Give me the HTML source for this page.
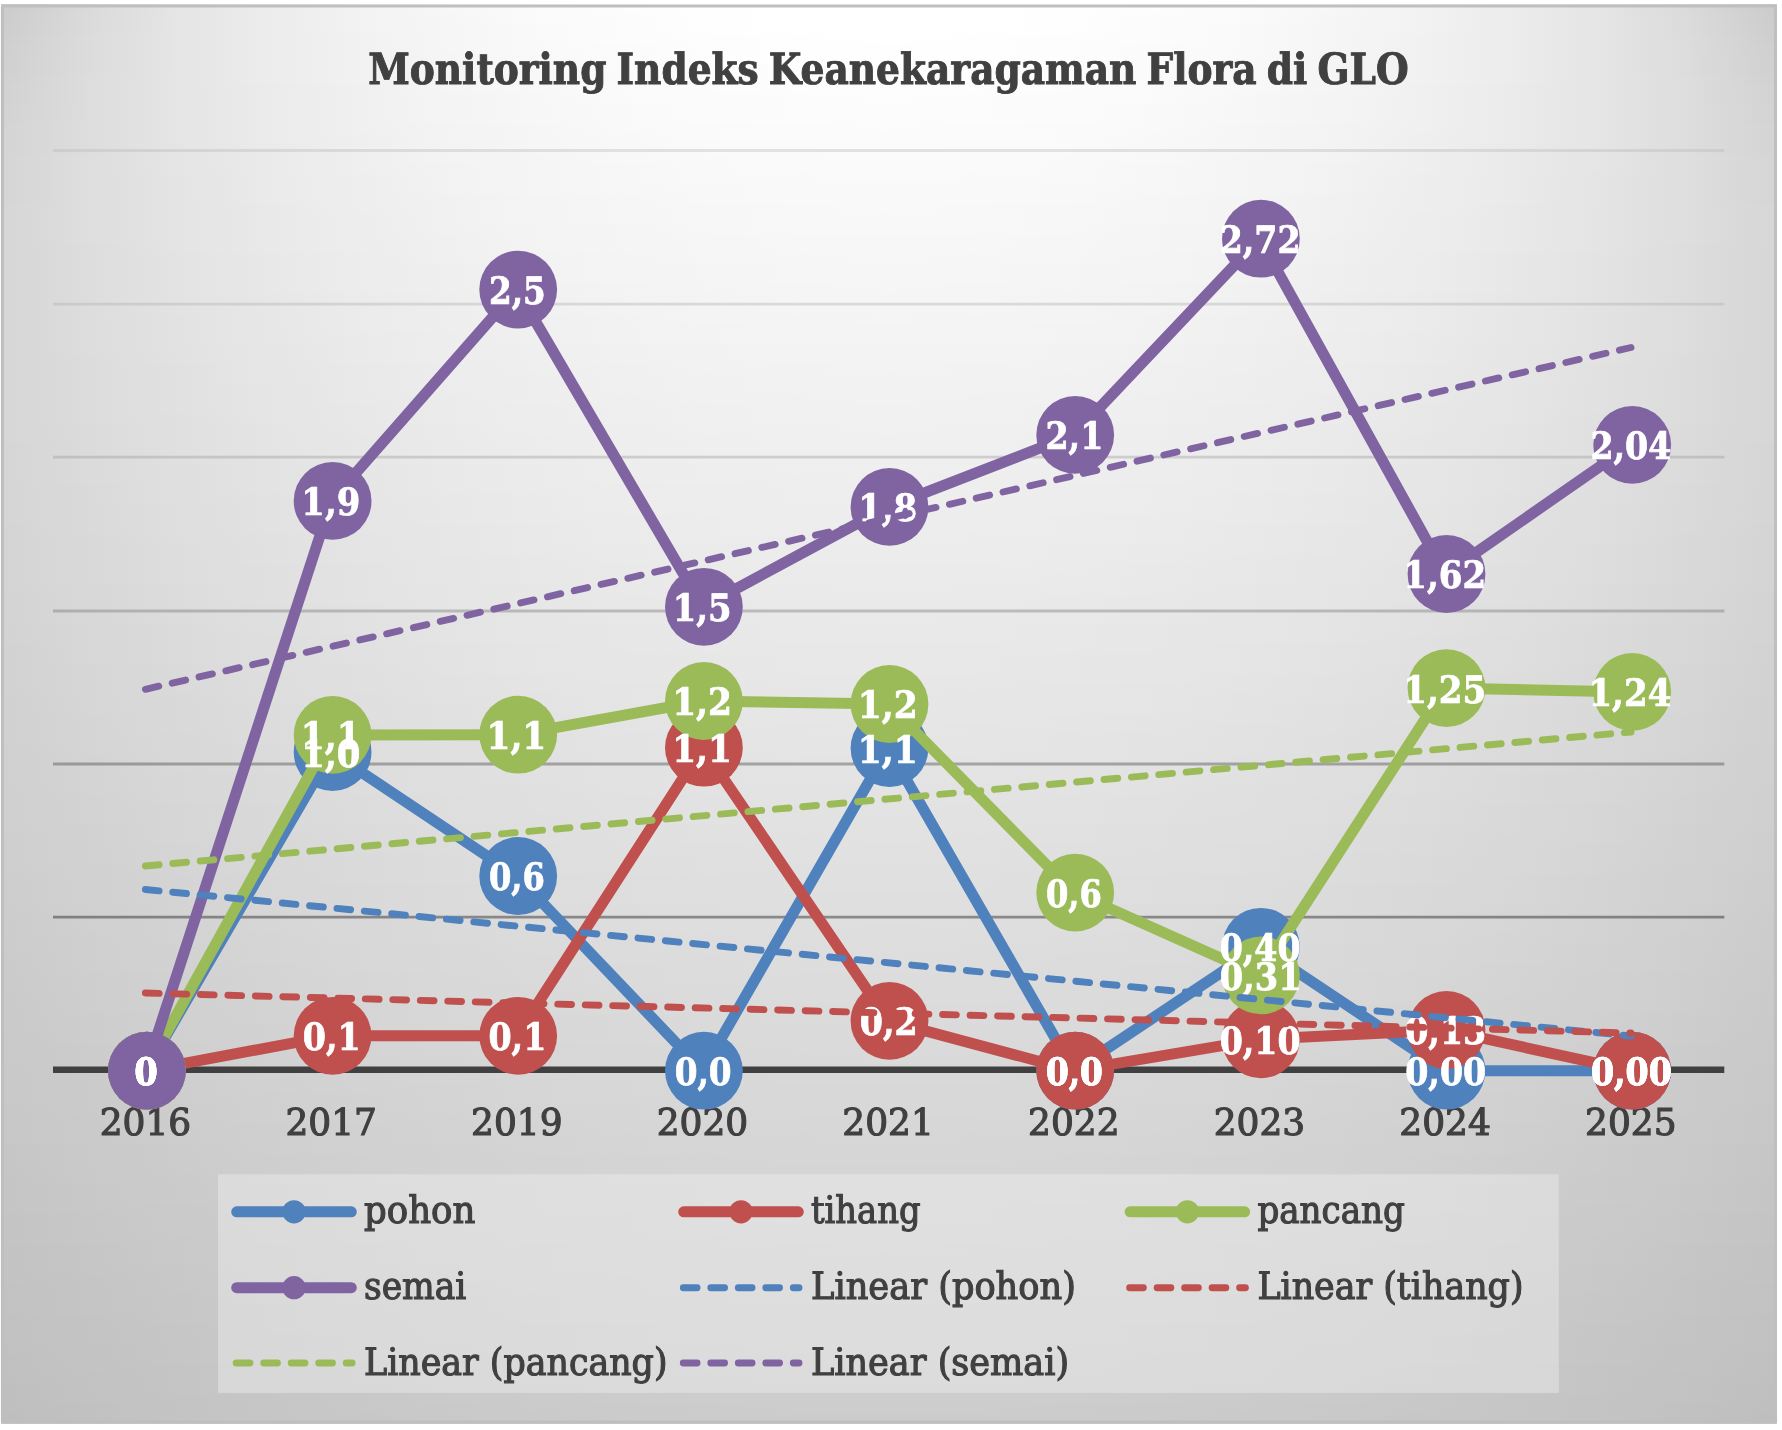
<!DOCTYPE html>
<html lang="id"><head><meta charset="utf-8"><title>Monitoring Indeks Keanekaragaman Flora di GLO</title>
<style>html,body{margin:0;padding:0;background:#fff;}body{width:1782px;height:1430px;overflow:hidden;}svg{display:block;}text{font-family:"DejaVu Serif Condensed","DejaVu Serif","Liberation Serif",serif;text-rendering:geometricPrecision;}</style></head><body>
<svg width="1782" height="1430" viewBox="0 0 1782 1430">
<defs><filter id="ga" x="0" y="0" width="1782" height="1430" filterUnits="userSpaceOnUse"><feOffset dx="0" dy="0"/></filter>
<linearGradient id="s0" gradientUnits="userSpaceOnUse" x1="889.0" y1="0" x2="1777.0" y2="0" spreadMethod="reflect"><stop offset="0" stop-color="#ffffff"/><stop offset="0.1" stop-color="#ffffff"/><stop offset="0.2" stop-color="#fefefe"/><stop offset="0.3" stop-color="#fdfdfd"/><stop offset="0.4" stop-color="#fafafa"/><stop offset="0.5" stop-color="#f7f7f7"/><stop offset="0.6" stop-color="#f2f2f2"/><stop offset="0.7" stop-color="#ececec"/><stop offset="0.8" stop-color="#e5e5e5"/><stop offset="0.9" stop-color="#dadada"/><stop offset="1" stop-color="#cbcbcb"/></linearGradient>
<linearGradient id="s1" gradientUnits="userSpaceOnUse" x1="889.0" y1="0" x2="1777.0" y2="0" spreadMethod="reflect"><stop offset="0" stop-color="#ffffff"/><stop offset="0.1" stop-color="#ffffff"/><stop offset="0.2" stop-color="#fefefe"/><stop offset="0.3" stop-color="#fcfcfc"/><stop offset="0.4" stop-color="#fafafa"/><stop offset="0.5" stop-color="#f6f6f6"/><stop offset="0.6" stop-color="#f2f2f2"/><stop offset="0.7" stop-color="#ececec"/><stop offset="0.8" stop-color="#e5e5e5"/><stop offset="0.9" stop-color="#dbdbdb"/><stop offset="1" stop-color="#cccccc"/></linearGradient>
<linearGradient id="s2" gradientUnits="userSpaceOnUse" x1="889.0" y1="0" x2="1777.0" y2="0" spreadMethod="reflect"><stop offset="0" stop-color="#ffffff"/><stop offset="0.1" stop-color="#ffffff"/><stop offset="0.2" stop-color="#fefefe"/><stop offset="0.3" stop-color="#fcfcfc"/><stop offset="0.4" stop-color="#f9f9f9"/><stop offset="0.5" stop-color="#f6f6f6"/><stop offset="0.6" stop-color="#f2f2f2"/><stop offset="0.7" stop-color="#ececec"/><stop offset="0.8" stop-color="#e5e5e5"/><stop offset="0.9" stop-color="#dbdbdb"/><stop offset="1" stop-color="#cdcdcd"/></linearGradient>
<linearGradient id="s3" gradientUnits="userSpaceOnUse" x1="889.0" y1="0" x2="1777.0" y2="0" spreadMethod="reflect"><stop offset="0" stop-color="#ffffff"/><stop offset="0.1" stop-color="#fefefe"/><stop offset="0.2" stop-color="#fdfdfd"/><stop offset="0.3" stop-color="#fcfcfc"/><stop offset="0.4" stop-color="#f9f9f9"/><stop offset="0.5" stop-color="#f6f6f6"/><stop offset="0.6" stop-color="#f1f1f1"/><stop offset="0.7" stop-color="#ececec"/><stop offset="0.8" stop-color="#e5e5e5"/><stop offset="0.9" stop-color="#dcdcdc"/><stop offset="1" stop-color="#cecece"/></linearGradient>
<linearGradient id="s4" gradientUnits="userSpaceOnUse" x1="889.0" y1="0" x2="1777.0" y2="0" spreadMethod="reflect"><stop offset="0" stop-color="#fefefe"/><stop offset="0.1" stop-color="#fefefe"/><stop offset="0.2" stop-color="#fdfdfd"/><stop offset="0.3" stop-color="#fbfbfb"/><stop offset="0.4" stop-color="#f9f9f9"/><stop offset="0.5" stop-color="#f6f6f6"/><stop offset="0.6" stop-color="#f1f1f1"/><stop offset="0.7" stop-color="#ececec"/><stop offset="0.8" stop-color="#e5e5e5"/><stop offset="0.9" stop-color="#dcdcdc"/><stop offset="1" stop-color="#cfcfcf"/></linearGradient>
<linearGradient id="s5" gradientUnits="userSpaceOnUse" x1="889.0" y1="0" x2="1777.0" y2="0" spreadMethod="reflect"><stop offset="0" stop-color="#fefefe"/><stop offset="0.1" stop-color="#fefefe"/><stop offset="0.2" stop-color="#fdfdfd"/><stop offset="0.3" stop-color="#fbfbfb"/><stop offset="0.4" stop-color="#f9f9f9"/><stop offset="0.5" stop-color="#f5f5f5"/><stop offset="0.6" stop-color="#f1f1f1"/><stop offset="0.7" stop-color="#ececec"/><stop offset="0.8" stop-color="#e5e5e5"/><stop offset="0.9" stop-color="#dcdcdc"/><stop offset="1" stop-color="#d0d0d0"/></linearGradient>
<linearGradient id="s6" gradientUnits="userSpaceOnUse" x1="889.0" y1="0" x2="1777.0" y2="0" spreadMethod="reflect"><stop offset="0" stop-color="#fefefe"/><stop offset="0.1" stop-color="#fdfdfd"/><stop offset="0.2" stop-color="#fcfcfc"/><stop offset="0.3" stop-color="#fbfbfb"/><stop offset="0.4" stop-color="#f8f8f8"/><stop offset="0.5" stop-color="#f5f5f5"/><stop offset="0.6" stop-color="#f1f1f1"/><stop offset="0.7" stop-color="#ececec"/><stop offset="0.8" stop-color="#e5e5e5"/><stop offset="0.9" stop-color="#dcdcdc"/><stop offset="1" stop-color="#d0d0d0"/></linearGradient>
<linearGradient id="s7" gradientUnits="userSpaceOnUse" x1="889.0" y1="0" x2="1777.0" y2="0" spreadMethod="reflect"><stop offset="0" stop-color="#fdfdfd"/><stop offset="0.1" stop-color="#fdfdfd"/><stop offset="0.2" stop-color="#fcfcfc"/><stop offset="0.3" stop-color="#fafafa"/><stop offset="0.4" stop-color="#f8f8f8"/><stop offset="0.5" stop-color="#f5f5f5"/><stop offset="0.6" stop-color="#f1f1f1"/><stop offset="0.7" stop-color="#ececec"/><stop offset="0.8" stop-color="#e5e5e5"/><stop offset="0.9" stop-color="#dddddd"/><stop offset="1" stop-color="#d1d1d1"/></linearGradient>
<linearGradient id="s8" gradientUnits="userSpaceOnUse" x1="889.0" y1="0" x2="1777.0" y2="0" spreadMethod="reflect"><stop offset="0" stop-color="#fdfdfd"/><stop offset="0.1" stop-color="#fdfdfd"/><stop offset="0.2" stop-color="#fcfcfc"/><stop offset="0.3" stop-color="#fafafa"/><stop offset="0.4" stop-color="#f8f8f8"/><stop offset="0.5" stop-color="#f5f5f5"/><stop offset="0.6" stop-color="#f0f0f0"/><stop offset="0.7" stop-color="#ebebeb"/><stop offset="0.8" stop-color="#e5e5e5"/><stop offset="0.9" stop-color="#dddddd"/><stop offset="1" stop-color="#d2d2d2"/></linearGradient>
<linearGradient id="s9" gradientUnits="userSpaceOnUse" x1="889.0" y1="0" x2="1777.0" y2="0" spreadMethod="reflect"><stop offset="0" stop-color="#fdfdfd"/><stop offset="0.1" stop-color="#fcfcfc"/><stop offset="0.2" stop-color="#fbfbfb"/><stop offset="0.3" stop-color="#fafafa"/><stop offset="0.4" stop-color="#f7f7f7"/><stop offset="0.5" stop-color="#f4f4f4"/><stop offset="0.6" stop-color="#f0f0f0"/><stop offset="0.7" stop-color="#ebebeb"/><stop offset="0.8" stop-color="#e5e5e5"/><stop offset="0.9" stop-color="#dddddd"/><stop offset="1" stop-color="#d2d2d2"/></linearGradient>
<linearGradient id="s10" gradientUnits="userSpaceOnUse" x1="889.0" y1="0" x2="1777.0" y2="0" spreadMethod="reflect"><stop offset="0" stop-color="#fcfcfc"/><stop offset="0.1" stop-color="#fcfcfc"/><stop offset="0.2" stop-color="#fbfbfb"/><stop offset="0.3" stop-color="#f9f9f9"/><stop offset="0.4" stop-color="#f7f7f7"/><stop offset="0.5" stop-color="#f4f4f4"/><stop offset="0.6" stop-color="#f0f0f0"/><stop offset="0.7" stop-color="#ebebeb"/><stop offset="0.8" stop-color="#e5e5e5"/><stop offset="0.9" stop-color="#dddddd"/><stop offset="1" stop-color="#d3d3d3"/></linearGradient>
<linearGradient id="s11" gradientUnits="userSpaceOnUse" x1="889.0" y1="0" x2="1777.0" y2="0" spreadMethod="reflect"><stop offset="0" stop-color="#fcfcfc"/><stop offset="0.1" stop-color="#fcfcfc"/><stop offset="0.2" stop-color="#fbfbfb"/><stop offset="0.3" stop-color="#f9f9f9"/><stop offset="0.4" stop-color="#f7f7f7"/><stop offset="0.5" stop-color="#f4f4f4"/><stop offset="0.6" stop-color="#f0f0f0"/><stop offset="0.7" stop-color="#ebebeb"/><stop offset="0.8" stop-color="#e5e5e5"/><stop offset="0.9" stop-color="#dddddd"/><stop offset="1" stop-color="#d3d3d3"/></linearGradient>
<linearGradient id="s12" gradientUnits="userSpaceOnUse" x1="889.0" y1="0" x2="1777.0" y2="0" spreadMethod="reflect"><stop offset="0" stop-color="#fcfcfc"/><stop offset="0.1" stop-color="#fbfbfb"/><stop offset="0.2" stop-color="#fafafa"/><stop offset="0.3" stop-color="#f9f9f9"/><stop offset="0.4" stop-color="#f6f6f6"/><stop offset="0.5" stop-color="#f3f3f3"/><stop offset="0.6" stop-color="#f0f0f0"/><stop offset="0.7" stop-color="#ebebeb"/><stop offset="0.8" stop-color="#e5e5e5"/><stop offset="0.9" stop-color="#dddddd"/><stop offset="1" stop-color="#d4d4d4"/></linearGradient>
<linearGradient id="s13" gradientUnits="userSpaceOnUse" x1="889.0" y1="0" x2="1777.0" y2="0" spreadMethod="reflect"><stop offset="0" stop-color="#fbfbfb"/><stop offset="0.1" stop-color="#fbfbfb"/><stop offset="0.2" stop-color="#fafafa"/><stop offset="0.3" stop-color="#f8f8f8"/><stop offset="0.4" stop-color="#f6f6f6"/><stop offset="0.5" stop-color="#f3f3f3"/><stop offset="0.6" stop-color="#efefef"/><stop offset="0.7" stop-color="#ebebeb"/><stop offset="0.8" stop-color="#e5e5e5"/><stop offset="0.9" stop-color="#dddddd"/><stop offset="1" stop-color="#d4d4d4"/></linearGradient>
<linearGradient id="s14" gradientUnits="userSpaceOnUse" x1="889.0" y1="0" x2="1777.0" y2="0" spreadMethod="reflect"><stop offset="0" stop-color="#fbfbfb"/><stop offset="0.1" stop-color="#fafafa"/><stop offset="0.2" stop-color="#fafafa"/><stop offset="0.3" stop-color="#f8f8f8"/><stop offset="0.4" stop-color="#f6f6f6"/><stop offset="0.5" stop-color="#f3f3f3"/><stop offset="0.6" stop-color="#efefef"/><stop offset="0.7" stop-color="#eaeaea"/><stop offset="0.8" stop-color="#e5e5e5"/><stop offset="0.9" stop-color="#dddddd"/><stop offset="1" stop-color="#d4d4d4"/></linearGradient>
<linearGradient id="s15" gradientUnits="userSpaceOnUse" x1="889.0" y1="0" x2="1777.0" y2="0" spreadMethod="reflect"><stop offset="0" stop-color="#fafafa"/><stop offset="0.1" stop-color="#fafafa"/><stop offset="0.2" stop-color="#f9f9f9"/><stop offset="0.3" stop-color="#f8f8f8"/><stop offset="0.4" stop-color="#f5f5f5"/><stop offset="0.5" stop-color="#f3f3f3"/><stop offset="0.6" stop-color="#efefef"/><stop offset="0.7" stop-color="#eaeaea"/><stop offset="0.8" stop-color="#e5e5e5"/><stop offset="0.9" stop-color="#dedede"/><stop offset="1" stop-color="#d5d5d5"/></linearGradient>
<linearGradient id="s16" gradientUnits="userSpaceOnUse" x1="889.0" y1="0" x2="1777.0" y2="0" spreadMethod="reflect"><stop offset="0" stop-color="#fafafa"/><stop offset="0.1" stop-color="#fafafa"/><stop offset="0.2" stop-color="#f9f9f9"/><stop offset="0.3" stop-color="#f7f7f7"/><stop offset="0.4" stop-color="#f5f5f5"/><stop offset="0.5" stop-color="#f2f2f2"/><stop offset="0.6" stop-color="#efefef"/><stop offset="0.7" stop-color="#eaeaea"/><stop offset="0.8" stop-color="#e5e5e5"/><stop offset="0.9" stop-color="#dedede"/><stop offset="1" stop-color="#d5d5d5"/></linearGradient>
<linearGradient id="s17" gradientUnits="userSpaceOnUse" x1="889.0" y1="0" x2="1777.0" y2="0" spreadMethod="reflect"><stop offset="0" stop-color="#fafafa"/><stop offset="0.1" stop-color="#f9f9f9"/><stop offset="0.2" stop-color="#f9f9f9"/><stop offset="0.3" stop-color="#f7f7f7"/><stop offset="0.4" stop-color="#f5f5f5"/><stop offset="0.5" stop-color="#f2f2f2"/><stop offset="0.6" stop-color="#eeeeee"/><stop offset="0.7" stop-color="#eaeaea"/><stop offset="0.8" stop-color="#e4e4e4"/><stop offset="0.9" stop-color="#dedede"/><stop offset="1" stop-color="#d5d5d5"/></linearGradient>
<linearGradient id="s18" gradientUnits="userSpaceOnUse" x1="889.0" y1="0" x2="1777.0" y2="0" spreadMethod="reflect"><stop offset="0" stop-color="#f9f9f9"/><stop offset="0.1" stop-color="#f9f9f9"/><stop offset="0.2" stop-color="#f8f8f8"/><stop offset="0.3" stop-color="#f7f7f7"/><stop offset="0.4" stop-color="#f5f5f5"/><stop offset="0.5" stop-color="#f2f2f2"/><stop offset="0.6" stop-color="#eeeeee"/><stop offset="0.7" stop-color="#eaeaea"/><stop offset="0.8" stop-color="#e4e4e4"/><stop offset="0.9" stop-color="#dedede"/><stop offset="1" stop-color="#d5d5d5"/></linearGradient>
<linearGradient id="s19" gradientUnits="userSpaceOnUse" x1="889.0" y1="0" x2="1777.0" y2="0" spreadMethod="reflect"><stop offset="0" stop-color="#f9f9f9"/><stop offset="0.1" stop-color="#f9f9f9"/><stop offset="0.2" stop-color="#f8f8f8"/><stop offset="0.3" stop-color="#f6f6f6"/><stop offset="0.4" stop-color="#f4f4f4"/><stop offset="0.5" stop-color="#f1f1f1"/><stop offset="0.6" stop-color="#eeeeee"/><stop offset="0.7" stop-color="#eaeaea"/><stop offset="0.8" stop-color="#e4e4e4"/><stop offset="0.9" stop-color="#dedede"/><stop offset="1" stop-color="#d5d5d5"/></linearGradient>
<linearGradient id="s20" gradientUnits="userSpaceOnUse" x1="889.0" y1="0" x2="1777.0" y2="0" spreadMethod="reflect"><stop offset="0" stop-color="#f9f9f9"/><stop offset="0.1" stop-color="#f8f8f8"/><stop offset="0.2" stop-color="#f7f7f7"/><stop offset="0.3" stop-color="#f6f6f6"/><stop offset="0.4" stop-color="#f4f4f4"/><stop offset="0.5" stop-color="#f1f1f1"/><stop offset="0.6" stop-color="#eeeeee"/><stop offset="0.7" stop-color="#e9e9e9"/><stop offset="0.8" stop-color="#e4e4e4"/><stop offset="0.9" stop-color="#dedede"/><stop offset="1" stop-color="#d6d6d6"/></linearGradient>
<linearGradient id="s21" gradientUnits="userSpaceOnUse" x1="889.0" y1="0" x2="1777.0" y2="0" spreadMethod="reflect"><stop offset="0" stop-color="#f8f8f8"/><stop offset="0.1" stop-color="#f8f8f8"/><stop offset="0.2" stop-color="#f7f7f7"/><stop offset="0.3" stop-color="#f6f6f6"/><stop offset="0.4" stop-color="#f4f4f4"/><stop offset="0.5" stop-color="#f1f1f1"/><stop offset="0.6" stop-color="#ededed"/><stop offset="0.7" stop-color="#e9e9e9"/><stop offset="0.8" stop-color="#e4e4e4"/><stop offset="0.9" stop-color="#dedede"/><stop offset="1" stop-color="#d6d6d6"/></linearGradient>
<linearGradient id="s22" gradientUnits="userSpaceOnUse" x1="889.0" y1="0" x2="1777.0" y2="0" spreadMethod="reflect"><stop offset="0" stop-color="#f8f8f8"/><stop offset="0.1" stop-color="#f8f8f8"/><stop offset="0.2" stop-color="#f7f7f7"/><stop offset="0.3" stop-color="#f5f5f5"/><stop offset="0.4" stop-color="#f3f3f3"/><stop offset="0.5" stop-color="#f1f1f1"/><stop offset="0.6" stop-color="#ededed"/><stop offset="0.7" stop-color="#e9e9e9"/><stop offset="0.8" stop-color="#e4e4e4"/><stop offset="0.9" stop-color="#dedede"/><stop offset="1" stop-color="#d6d6d6"/></linearGradient>
<linearGradient id="s23" gradientUnits="userSpaceOnUse" x1="889.0" y1="0" x2="1777.0" y2="0" spreadMethod="reflect"><stop offset="0" stop-color="#f7f7f7"/><stop offset="0.1" stop-color="#f7f7f7"/><stop offset="0.2" stop-color="#f6f6f6"/><stop offset="0.3" stop-color="#f5f5f5"/><stop offset="0.4" stop-color="#f3f3f3"/><stop offset="0.5" stop-color="#f0f0f0"/><stop offset="0.6" stop-color="#ededed"/><stop offset="0.7" stop-color="#e9e9e9"/><stop offset="0.8" stop-color="#e4e4e4"/><stop offset="0.9" stop-color="#dedede"/><stop offset="1" stop-color="#d6d6d6"/></linearGradient>
<linearGradient id="s24" gradientUnits="userSpaceOnUse" x1="889.0" y1="0" x2="1777.0" y2="0" spreadMethod="reflect"><stop offset="0" stop-color="#f7f7f7"/><stop offset="0.1" stop-color="#f7f7f7"/><stop offset="0.2" stop-color="#f6f6f6"/><stop offset="0.3" stop-color="#f5f5f5"/><stop offset="0.4" stop-color="#f3f3f3"/><stop offset="0.5" stop-color="#f0f0f0"/><stop offset="0.6" stop-color="#ededed"/><stop offset="0.7" stop-color="#e9e9e9"/><stop offset="0.8" stop-color="#e4e4e4"/><stop offset="0.9" stop-color="#dddddd"/><stop offset="1" stop-color="#d6d6d6"/></linearGradient>
<linearGradient id="s25" gradientUnits="userSpaceOnUse" x1="889.0" y1="0" x2="1777.0" y2="0" spreadMethod="reflect"><stop offset="0" stop-color="#f7f7f7"/><stop offset="0.1" stop-color="#f6f6f6"/><stop offset="0.2" stop-color="#f6f6f6"/><stop offset="0.3" stop-color="#f4f4f4"/><stop offset="0.4" stop-color="#f2f2f2"/><stop offset="0.5" stop-color="#f0f0f0"/><stop offset="0.6" stop-color="#ececec"/><stop offset="0.7" stop-color="#e8e8e8"/><stop offset="0.8" stop-color="#e3e3e3"/><stop offset="0.9" stop-color="#dddddd"/><stop offset="1" stop-color="#d6d6d6"/></linearGradient>
<linearGradient id="s26" gradientUnits="userSpaceOnUse" x1="889.0" y1="0" x2="1777.0" y2="0" spreadMethod="reflect"><stop offset="0" stop-color="#f6f6f6"/><stop offset="0.1" stop-color="#f6f6f6"/><stop offset="0.2" stop-color="#f5f5f5"/><stop offset="0.3" stop-color="#f4f4f4"/><stop offset="0.4" stop-color="#f2f2f2"/><stop offset="0.5" stop-color="#efefef"/><stop offset="0.6" stop-color="#ececec"/><stop offset="0.7" stop-color="#e8e8e8"/><stop offset="0.8" stop-color="#e3e3e3"/><stop offset="0.9" stop-color="#dddddd"/><stop offset="1" stop-color="#d6d6d6"/></linearGradient>
<linearGradient id="s27" gradientUnits="userSpaceOnUse" x1="889.0" y1="0" x2="1777.0" y2="0" spreadMethod="reflect"><stop offset="0" stop-color="#f6f6f6"/><stop offset="0.1" stop-color="#f6f6f6"/><stop offset="0.2" stop-color="#f5f5f5"/><stop offset="0.3" stop-color="#f4f4f4"/><stop offset="0.4" stop-color="#f2f2f2"/><stop offset="0.5" stop-color="#efefef"/><stop offset="0.6" stop-color="#ececec"/><stop offset="0.7" stop-color="#e8e8e8"/><stop offset="0.8" stop-color="#e3e3e3"/><stop offset="0.9" stop-color="#dddddd"/><stop offset="1" stop-color="#d6d6d6"/></linearGradient>
<linearGradient id="s28" gradientUnits="userSpaceOnUse" x1="889.0" y1="0" x2="1777.0" y2="0" spreadMethod="reflect"><stop offset="0" stop-color="#f6f6f6"/><stop offset="0.1" stop-color="#f5f5f5"/><stop offset="0.2" stop-color="#f5f5f5"/><stop offset="0.3" stop-color="#f3f3f3"/><stop offset="0.4" stop-color="#f1f1f1"/><stop offset="0.5" stop-color="#efefef"/><stop offset="0.6" stop-color="#ececec"/><stop offset="0.7" stop-color="#e8e8e8"/><stop offset="0.8" stop-color="#e3e3e3"/><stop offset="0.9" stop-color="#dddddd"/><stop offset="1" stop-color="#d6d6d6"/></linearGradient>
<linearGradient id="s29" gradientUnits="userSpaceOnUse" x1="889.0" y1="0" x2="1777.0" y2="0" spreadMethod="reflect"><stop offset="0" stop-color="#f5f5f5"/><stop offset="0.1" stop-color="#f5f5f5"/><stop offset="0.2" stop-color="#f4f4f4"/><stop offset="0.3" stop-color="#f3f3f3"/><stop offset="0.4" stop-color="#f1f1f1"/><stop offset="0.5" stop-color="#eeeeee"/><stop offset="0.6" stop-color="#ebebeb"/><stop offset="0.7" stop-color="#e7e7e7"/><stop offset="0.8" stop-color="#e3e3e3"/><stop offset="0.9" stop-color="#dddddd"/><stop offset="1" stop-color="#d6d6d6"/></linearGradient>
<linearGradient id="s30" gradientUnits="userSpaceOnUse" x1="889.0" y1="0" x2="1777.0" y2="0" spreadMethod="reflect"><stop offset="0" stop-color="#f5f5f5"/><stop offset="0.1" stop-color="#f5f5f5"/><stop offset="0.2" stop-color="#f4f4f4"/><stop offset="0.3" stop-color="#f3f3f3"/><stop offset="0.4" stop-color="#f1f1f1"/><stop offset="0.5" stop-color="#eeeeee"/><stop offset="0.6" stop-color="#ebebeb"/><stop offset="0.7" stop-color="#e7e7e7"/><stop offset="0.8" stop-color="#e3e3e3"/><stop offset="0.9" stop-color="#dddddd"/><stop offset="1" stop-color="#d6d6d6"/></linearGradient>
<linearGradient id="s31" gradientUnits="userSpaceOnUse" x1="889.0" y1="0" x2="1777.0" y2="0" spreadMethod="reflect"><stop offset="0" stop-color="#f5f5f5"/><stop offset="0.1" stop-color="#f4f4f4"/><stop offset="0.2" stop-color="#f4f4f4"/><stop offset="0.3" stop-color="#f2f2f2"/><stop offset="0.4" stop-color="#f0f0f0"/><stop offset="0.5" stop-color="#eeeeee"/><stop offset="0.6" stop-color="#ebebeb"/><stop offset="0.7" stop-color="#e7e7e7"/><stop offset="0.8" stop-color="#e2e2e2"/><stop offset="0.9" stop-color="#dddddd"/><stop offset="1" stop-color="#d6d6d6"/></linearGradient>
<linearGradient id="s32" gradientUnits="userSpaceOnUse" x1="889.0" y1="0" x2="1777.0" y2="0" spreadMethod="reflect"><stop offset="0" stop-color="#f4f4f4"/><stop offset="0.1" stop-color="#f4f4f4"/><stop offset="0.2" stop-color="#f3f3f3"/><stop offset="0.3" stop-color="#f2f2f2"/><stop offset="0.4" stop-color="#f0f0f0"/><stop offset="0.5" stop-color="#eeeeee"/><stop offset="0.6" stop-color="#ebebeb"/><stop offset="0.7" stop-color="#e7e7e7"/><stop offset="0.8" stop-color="#e2e2e2"/><stop offset="0.9" stop-color="#dddddd"/><stop offset="1" stop-color="#d6d6d6"/></linearGradient>
<linearGradient id="s33" gradientUnits="userSpaceOnUse" x1="889.0" y1="0" x2="1777.0" y2="0" spreadMethod="reflect"><stop offset="0" stop-color="#f4f4f4"/><stop offset="0.1" stop-color="#f4f4f4"/><stop offset="0.2" stop-color="#f3f3f3"/><stop offset="0.3" stop-color="#f2f2f2"/><stop offset="0.4" stop-color="#f0f0f0"/><stop offset="0.5" stop-color="#ededed"/><stop offset="0.6" stop-color="#eaeaea"/><stop offset="0.7" stop-color="#e7e7e7"/><stop offset="0.8" stop-color="#e2e2e2"/><stop offset="0.9" stop-color="#dddddd"/><stop offset="1" stop-color="#d6d6d6"/></linearGradient>
<linearGradient id="s34" gradientUnits="userSpaceOnUse" x1="889.0" y1="0" x2="1777.0" y2="0" spreadMethod="reflect"><stop offset="0" stop-color="#f3f3f3"/><stop offset="0.1" stop-color="#f3f3f3"/><stop offset="0.2" stop-color="#f2f2f2"/><stop offset="0.3" stop-color="#f1f1f1"/><stop offset="0.4" stop-color="#efefef"/><stop offset="0.5" stop-color="#ededed"/><stop offset="0.6" stop-color="#eaeaea"/><stop offset="0.7" stop-color="#e6e6e6"/><stop offset="0.8" stop-color="#e2e2e2"/><stop offset="0.9" stop-color="#dddddd"/><stop offset="1" stop-color="#d6d6d6"/></linearGradient>
<linearGradient id="s35" gradientUnits="userSpaceOnUse" x1="889.0" y1="0" x2="1777.0" y2="0" spreadMethod="reflect"><stop offset="0" stop-color="#f3f3f3"/><stop offset="0.1" stop-color="#f3f3f3"/><stop offset="0.2" stop-color="#f2f2f2"/><stop offset="0.3" stop-color="#f1f1f1"/><stop offset="0.4" stop-color="#efefef"/><stop offset="0.5" stop-color="#ededed"/><stop offset="0.6" stop-color="#eaeaea"/><stop offset="0.7" stop-color="#e6e6e6"/><stop offset="0.8" stop-color="#e2e2e2"/><stop offset="0.9" stop-color="#dcdcdc"/><stop offset="1" stop-color="#d6d6d6"/></linearGradient>
<linearGradient id="s36" gradientUnits="userSpaceOnUse" x1="889.0" y1="0" x2="1777.0" y2="0" spreadMethod="reflect"><stop offset="0" stop-color="#f3f3f3"/><stop offset="0.1" stop-color="#f2f2f2"/><stop offset="0.2" stop-color="#f2f2f2"/><stop offset="0.3" stop-color="#f0f0f0"/><stop offset="0.4" stop-color="#efefef"/><stop offset="0.5" stop-color="#ececec"/><stop offset="0.6" stop-color="#e9e9e9"/><stop offset="0.7" stop-color="#e6e6e6"/><stop offset="0.8" stop-color="#e1e1e1"/><stop offset="0.9" stop-color="#dcdcdc"/><stop offset="1" stop-color="#d6d6d6"/></linearGradient>
<linearGradient id="s37" gradientUnits="userSpaceOnUse" x1="889.0" y1="0" x2="1777.0" y2="0" spreadMethod="reflect"><stop offset="0" stop-color="#f2f2f2"/><stop offset="0.1" stop-color="#f2f2f2"/><stop offset="0.2" stop-color="#f1f1f1"/><stop offset="0.3" stop-color="#f0f0f0"/><stop offset="0.4" stop-color="#eeeeee"/><stop offset="0.5" stop-color="#ececec"/><stop offset="0.6" stop-color="#e9e9e9"/><stop offset="0.7" stop-color="#e6e6e6"/><stop offset="0.8" stop-color="#e1e1e1"/><stop offset="0.9" stop-color="#dcdcdc"/><stop offset="1" stop-color="#d6d6d6"/></linearGradient>
<linearGradient id="s38" gradientUnits="userSpaceOnUse" x1="889.0" y1="0" x2="1777.0" y2="0" spreadMethod="reflect"><stop offset="0" stop-color="#f2f2f2"/><stop offset="0.1" stop-color="#f2f2f2"/><stop offset="0.2" stop-color="#f1f1f1"/><stop offset="0.3" stop-color="#f0f0f0"/><stop offset="0.4" stop-color="#eeeeee"/><stop offset="0.5" stop-color="#ececec"/><stop offset="0.6" stop-color="#e9e9e9"/><stop offset="0.7" stop-color="#e5e5e5"/><stop offset="0.8" stop-color="#e1e1e1"/><stop offset="0.9" stop-color="#dcdcdc"/><stop offset="1" stop-color="#d6d6d6"/></linearGradient>
<linearGradient id="s39" gradientUnits="userSpaceOnUse" x1="889.0" y1="0" x2="1777.0" y2="0" spreadMethod="reflect"><stop offset="0" stop-color="#f2f2f2"/><stop offset="0.1" stop-color="#f1f1f1"/><stop offset="0.2" stop-color="#f1f1f1"/><stop offset="0.3" stop-color="#efefef"/><stop offset="0.4" stop-color="#eeeeee"/><stop offset="0.5" stop-color="#ebebeb"/><stop offset="0.6" stop-color="#e9e9e9"/><stop offset="0.7" stop-color="#e5e5e5"/><stop offset="0.8" stop-color="#e1e1e1"/><stop offset="0.9" stop-color="#dcdcdc"/><stop offset="1" stop-color="#d6d6d6"/></linearGradient>
<linearGradient id="s40" gradientUnits="userSpaceOnUse" x1="889.0" y1="0" x2="1777.0" y2="0" spreadMethod="reflect"><stop offset="0" stop-color="#f1f1f1"/><stop offset="0.1" stop-color="#f1f1f1"/><stop offset="0.2" stop-color="#f0f0f0"/><stop offset="0.3" stop-color="#efefef"/><stop offset="0.4" stop-color="#ededed"/><stop offset="0.5" stop-color="#ebebeb"/><stop offset="0.6" stop-color="#e8e8e8"/><stop offset="0.7" stop-color="#e5e5e5"/><stop offset="0.8" stop-color="#e1e1e1"/><stop offset="0.9" stop-color="#dcdcdc"/><stop offset="1" stop-color="#d6d6d6"/></linearGradient>
<linearGradient id="s41" gradientUnits="userSpaceOnUse" x1="889.0" y1="0" x2="1777.0" y2="0" spreadMethod="reflect"><stop offset="0" stop-color="#f1f1f1"/><stop offset="0.1" stop-color="#f1f1f1"/><stop offset="0.2" stop-color="#f0f0f0"/><stop offset="0.3" stop-color="#efefef"/><stop offset="0.4" stop-color="#ededed"/><stop offset="0.5" stop-color="#ebebeb"/><stop offset="0.6" stop-color="#e8e8e8"/><stop offset="0.7" stop-color="#e5e5e5"/><stop offset="0.8" stop-color="#e0e0e0"/><stop offset="0.9" stop-color="#dcdcdc"/><stop offset="1" stop-color="#d6d6d6"/></linearGradient>
<linearGradient id="s42" gradientUnits="userSpaceOnUse" x1="889.0" y1="0" x2="1777.0" y2="0" spreadMethod="reflect"><stop offset="0" stop-color="#f1f1f1"/><stop offset="0.1" stop-color="#f0f0f0"/><stop offset="0.2" stop-color="#f0f0f0"/><stop offset="0.3" stop-color="#eeeeee"/><stop offset="0.4" stop-color="#ededed"/><stop offset="0.5" stop-color="#eaeaea"/><stop offset="0.6" stop-color="#e8e8e8"/><stop offset="0.7" stop-color="#e4e4e4"/><stop offset="0.8" stop-color="#e0e0e0"/><stop offset="0.9" stop-color="#dbdbdb"/><stop offset="1" stop-color="#d6d6d6"/></linearGradient>
<linearGradient id="s43" gradientUnits="userSpaceOnUse" x1="889.0" y1="0" x2="1777.0" y2="0" spreadMethod="reflect"><stop offset="0" stop-color="#f0f0f0"/><stop offset="0.1" stop-color="#f0f0f0"/><stop offset="0.2" stop-color="#efefef"/><stop offset="0.3" stop-color="#eeeeee"/><stop offset="0.4" stop-color="#ececec"/><stop offset="0.5" stop-color="#eaeaea"/><stop offset="0.6" stop-color="#e7e7e7"/><stop offset="0.7" stop-color="#e4e4e4"/><stop offset="0.8" stop-color="#e0e0e0"/><stop offset="0.9" stop-color="#dbdbdb"/><stop offset="1" stop-color="#d6d6d6"/></linearGradient>
<linearGradient id="s44" gradientUnits="userSpaceOnUse" x1="889.0" y1="0" x2="1777.0" y2="0" spreadMethod="reflect"><stop offset="0" stop-color="#f0f0f0"/><stop offset="0.1" stop-color="#f0f0f0"/><stop offset="0.2" stop-color="#efefef"/><stop offset="0.3" stop-color="#eeeeee"/><stop offset="0.4" stop-color="#ececec"/><stop offset="0.5" stop-color="#eaeaea"/><stop offset="0.6" stop-color="#e7e7e7"/><stop offset="0.7" stop-color="#e4e4e4"/><stop offset="0.8" stop-color="#e0e0e0"/><stop offset="0.9" stop-color="#dbdbdb"/><stop offset="1" stop-color="#d5d5d5"/></linearGradient>
<linearGradient id="s45" gradientUnits="userSpaceOnUse" x1="889.0" y1="0" x2="1777.0" y2="0" spreadMethod="reflect"><stop offset="0" stop-color="#efefef"/><stop offset="0.1" stop-color="#efefef"/><stop offset="0.2" stop-color="#efefef"/><stop offset="0.3" stop-color="#ededed"/><stop offset="0.4" stop-color="#ececec"/><stop offset="0.5" stop-color="#eaeaea"/><stop offset="0.6" stop-color="#e7e7e7"/><stop offset="0.7" stop-color="#e3e3e3"/><stop offset="0.8" stop-color="#e0e0e0"/><stop offset="0.9" stop-color="#dbdbdb"/><stop offset="1" stop-color="#d5d5d5"/></linearGradient>
<linearGradient id="s46" gradientUnits="userSpaceOnUse" x1="889.0" y1="0" x2="1777.0" y2="0" spreadMethod="reflect"><stop offset="0" stop-color="#efefef"/><stop offset="0.1" stop-color="#efefef"/><stop offset="0.2" stop-color="#eeeeee"/><stop offset="0.3" stop-color="#ededed"/><stop offset="0.4" stop-color="#ebebeb"/><stop offset="0.5" stop-color="#e9e9e9"/><stop offset="0.6" stop-color="#e6e6e6"/><stop offset="0.7" stop-color="#e3e3e3"/><stop offset="0.8" stop-color="#dfdfdf"/><stop offset="0.9" stop-color="#dbdbdb"/><stop offset="1" stop-color="#d5d5d5"/></linearGradient>
<linearGradient id="s47" gradientUnits="userSpaceOnUse" x1="889.0" y1="0" x2="1777.0" y2="0" spreadMethod="reflect"><stop offset="0" stop-color="#efefef"/><stop offset="0.1" stop-color="#eeeeee"/><stop offset="0.2" stop-color="#eeeeee"/><stop offset="0.3" stop-color="#ededed"/><stop offset="0.4" stop-color="#ebebeb"/><stop offset="0.5" stop-color="#e9e9e9"/><stop offset="0.6" stop-color="#e6e6e6"/><stop offset="0.7" stop-color="#e3e3e3"/><stop offset="0.8" stop-color="#dfdfdf"/><stop offset="0.9" stop-color="#dbdbdb"/><stop offset="1" stop-color="#d5d5d5"/></linearGradient>
<linearGradient id="s48" gradientUnits="userSpaceOnUse" x1="889.0" y1="0" x2="1777.0" y2="0" spreadMethod="reflect"><stop offset="0" stop-color="#eeeeee"/><stop offset="0.1" stop-color="#eeeeee"/><stop offset="0.2" stop-color="#ededed"/><stop offset="0.3" stop-color="#ececec"/><stop offset="0.4" stop-color="#ebebeb"/><stop offset="0.5" stop-color="#e9e9e9"/><stop offset="0.6" stop-color="#e6e6e6"/><stop offset="0.7" stop-color="#e3e3e3"/><stop offset="0.8" stop-color="#dfdfdf"/><stop offset="0.9" stop-color="#dadada"/><stop offset="1" stop-color="#d5d5d5"/></linearGradient>
<linearGradient id="s49" gradientUnits="userSpaceOnUse" x1="889.0" y1="0" x2="1777.0" y2="0" spreadMethod="reflect"><stop offset="0" stop-color="#eeeeee"/><stop offset="0.1" stop-color="#eeeeee"/><stop offset="0.2" stop-color="#ededed"/><stop offset="0.3" stop-color="#ececec"/><stop offset="0.4" stop-color="#eaeaea"/><stop offset="0.5" stop-color="#e8e8e8"/><stop offset="0.6" stop-color="#e6e6e6"/><stop offset="0.7" stop-color="#e2e2e2"/><stop offset="0.8" stop-color="#dfdfdf"/><stop offset="0.9" stop-color="#dadada"/><stop offset="1" stop-color="#d5d5d5"/></linearGradient>
<linearGradient id="s50" gradientUnits="userSpaceOnUse" x1="889.0" y1="0" x2="1777.0" y2="0" spreadMethod="reflect"><stop offset="0" stop-color="#eeeeee"/><stop offset="0.1" stop-color="#ededed"/><stop offset="0.2" stop-color="#ededed"/><stop offset="0.3" stop-color="#ececec"/><stop offset="0.4" stop-color="#eaeaea"/><stop offset="0.5" stop-color="#e8e8e8"/><stop offset="0.6" stop-color="#e5e5e5"/><stop offset="0.7" stop-color="#e2e2e2"/><stop offset="0.8" stop-color="#dedede"/><stop offset="0.9" stop-color="#dadada"/><stop offset="1" stop-color="#d5d5d5"/></linearGradient>
<linearGradient id="s51" gradientUnits="userSpaceOnUse" x1="889.0" y1="0" x2="1777.0" y2="0" spreadMethod="reflect"><stop offset="0" stop-color="#ededed"/><stop offset="0.1" stop-color="#ededed"/><stop offset="0.2" stop-color="#ececec"/><stop offset="0.3" stop-color="#ebebeb"/><stop offset="0.4" stop-color="#eaeaea"/><stop offset="0.5" stop-color="#e8e8e8"/><stop offset="0.6" stop-color="#e5e5e5"/><stop offset="0.7" stop-color="#e2e2e2"/><stop offset="0.8" stop-color="#dedede"/><stop offset="0.9" stop-color="#dadada"/><stop offset="1" stop-color="#d5d5d5"/></linearGradient>
<linearGradient id="s52" gradientUnits="userSpaceOnUse" x1="889.0" y1="0" x2="1777.0" y2="0" spreadMethod="reflect"><stop offset="0" stop-color="#ededed"/><stop offset="0.1" stop-color="#ededed"/><stop offset="0.2" stop-color="#ececec"/><stop offset="0.3" stop-color="#ebebeb"/><stop offset="0.4" stop-color="#e9e9e9"/><stop offset="0.5" stop-color="#e7e7e7"/><stop offset="0.6" stop-color="#e5e5e5"/><stop offset="0.7" stop-color="#e2e2e2"/><stop offset="0.8" stop-color="#dedede"/><stop offset="0.9" stop-color="#dadada"/><stop offset="1" stop-color="#d4d4d4"/></linearGradient>
<linearGradient id="s53" gradientUnits="userSpaceOnUse" x1="889.0" y1="0" x2="1777.0" y2="0" spreadMethod="reflect"><stop offset="0" stop-color="#ededed"/><stop offset="0.1" stop-color="#ececec"/><stop offset="0.2" stop-color="#ececec"/><stop offset="0.3" stop-color="#ebebeb"/><stop offset="0.4" stop-color="#e9e9e9"/><stop offset="0.5" stop-color="#e7e7e7"/><stop offset="0.6" stop-color="#e4e4e4"/><stop offset="0.7" stop-color="#e1e1e1"/><stop offset="0.8" stop-color="#dedede"/><stop offset="0.9" stop-color="#d9d9d9"/><stop offset="1" stop-color="#d4d4d4"/></linearGradient>
<linearGradient id="s54" gradientUnits="userSpaceOnUse" x1="889.0" y1="0" x2="1777.0" y2="0" spreadMethod="reflect"><stop offset="0" stop-color="#ececec"/><stop offset="0.1" stop-color="#ececec"/><stop offset="0.2" stop-color="#ebebeb"/><stop offset="0.3" stop-color="#eaeaea"/><stop offset="0.4" stop-color="#e9e9e9"/><stop offset="0.5" stop-color="#e7e7e7"/><stop offset="0.6" stop-color="#e4e4e4"/><stop offset="0.7" stop-color="#e1e1e1"/><stop offset="0.8" stop-color="#dddddd"/><stop offset="0.9" stop-color="#d9d9d9"/><stop offset="1" stop-color="#d4d4d4"/></linearGradient>
<linearGradient id="s55" gradientUnits="userSpaceOnUse" x1="889.0" y1="0" x2="1777.0" y2="0" spreadMethod="reflect"><stop offset="0" stop-color="#ececec"/><stop offset="0.1" stop-color="#ececec"/><stop offset="0.2" stop-color="#ebebeb"/><stop offset="0.3" stop-color="#eaeaea"/><stop offset="0.4" stop-color="#e8e8e8"/><stop offset="0.5" stop-color="#e6e6e6"/><stop offset="0.6" stop-color="#e4e4e4"/><stop offset="0.7" stop-color="#e1e1e1"/><stop offset="0.8" stop-color="#dddddd"/><stop offset="0.9" stop-color="#d9d9d9"/><stop offset="1" stop-color="#d4d4d4"/></linearGradient>
<linearGradient id="s56" gradientUnits="userSpaceOnUse" x1="889.0" y1="0" x2="1777.0" y2="0" spreadMethod="reflect"><stop offset="0" stop-color="#ebebeb"/><stop offset="0.1" stop-color="#ebebeb"/><stop offset="0.2" stop-color="#ebebeb"/><stop offset="0.3" stop-color="#e9e9e9"/><stop offset="0.4" stop-color="#e8e8e8"/><stop offset="0.5" stop-color="#e6e6e6"/><stop offset="0.6" stop-color="#e3e3e3"/><stop offset="0.7" stop-color="#e0e0e0"/><stop offset="0.8" stop-color="#dddddd"/><stop offset="0.9" stop-color="#d9d9d9"/><stop offset="1" stop-color="#d4d4d4"/></linearGradient>
<linearGradient id="s57" gradientUnits="userSpaceOnUse" x1="889.0" y1="0" x2="1777.0" y2="0" spreadMethod="reflect"><stop offset="0" stop-color="#ebebeb"/><stop offset="0.1" stop-color="#ebebeb"/><stop offset="0.2" stop-color="#eaeaea"/><stop offset="0.3" stop-color="#e9e9e9"/><stop offset="0.4" stop-color="#e8e8e8"/><stop offset="0.5" stop-color="#e6e6e6"/><stop offset="0.6" stop-color="#e3e3e3"/><stop offset="0.7" stop-color="#e0e0e0"/><stop offset="0.8" stop-color="#dddddd"/><stop offset="0.9" stop-color="#d9d9d9"/><stop offset="1" stop-color="#d4d4d4"/></linearGradient>
<linearGradient id="s58" gradientUnits="userSpaceOnUse" x1="889.0" y1="0" x2="1777.0" y2="0" spreadMethod="reflect"><stop offset="0" stop-color="#ebebeb"/><stop offset="0.1" stop-color="#eaeaea"/><stop offset="0.2" stop-color="#eaeaea"/><stop offset="0.3" stop-color="#e9e9e9"/><stop offset="0.4" stop-color="#e7e7e7"/><stop offset="0.5" stop-color="#e5e5e5"/><stop offset="0.6" stop-color="#e3e3e3"/><stop offset="0.7" stop-color="#e0e0e0"/><stop offset="0.8" stop-color="#dcdcdc"/><stop offset="0.9" stop-color="#d8d8d8"/><stop offset="1" stop-color="#d4d4d4"/></linearGradient>
<linearGradient id="s59" gradientUnits="userSpaceOnUse" x1="889.0" y1="0" x2="1777.0" y2="0" spreadMethod="reflect"><stop offset="0" stop-color="#eaeaea"/><stop offset="0.1" stop-color="#eaeaea"/><stop offset="0.2" stop-color="#e9e9e9"/><stop offset="0.3" stop-color="#e8e8e8"/><stop offset="0.4" stop-color="#e7e7e7"/><stop offset="0.5" stop-color="#e5e5e5"/><stop offset="0.6" stop-color="#e3e3e3"/><stop offset="0.7" stop-color="#e0e0e0"/><stop offset="0.8" stop-color="#dcdcdc"/><stop offset="0.9" stop-color="#d8d8d8"/><stop offset="1" stop-color="#d3d3d3"/></linearGradient>
<linearGradient id="s60" gradientUnits="userSpaceOnUse" x1="889.0" y1="0" x2="1777.0" y2="0" spreadMethod="reflect"><stop offset="0" stop-color="#eaeaea"/><stop offset="0.1" stop-color="#eaeaea"/><stop offset="0.2" stop-color="#e9e9e9"/><stop offset="0.3" stop-color="#e8e8e8"/><stop offset="0.4" stop-color="#e7e7e7"/><stop offset="0.5" stop-color="#e5e5e5"/><stop offset="0.6" stop-color="#e2e2e2"/><stop offset="0.7" stop-color="#dfdfdf"/><stop offset="0.8" stop-color="#dcdcdc"/><stop offset="0.9" stop-color="#d8d8d8"/><stop offset="1" stop-color="#d3d3d3"/></linearGradient>
<linearGradient id="s61" gradientUnits="userSpaceOnUse" x1="889.0" y1="0" x2="1777.0" y2="0" spreadMethod="reflect"><stop offset="0" stop-color="#eaeaea"/><stop offset="0.1" stop-color="#e9e9e9"/><stop offset="0.2" stop-color="#e9e9e9"/><stop offset="0.3" stop-color="#e8e8e8"/><stop offset="0.4" stop-color="#e6e6e6"/><stop offset="0.5" stop-color="#e4e4e4"/><stop offset="0.6" stop-color="#e2e2e2"/><stop offset="0.7" stop-color="#dfdfdf"/><stop offset="0.8" stop-color="#dcdcdc"/><stop offset="0.9" stop-color="#d8d8d8"/><stop offset="1" stop-color="#d3d3d3"/></linearGradient>
<linearGradient id="s62" gradientUnits="userSpaceOnUse" x1="889.0" y1="0" x2="1777.0" y2="0" spreadMethod="reflect"><stop offset="0" stop-color="#e9e9e9"/><stop offset="0.1" stop-color="#e9e9e9"/><stop offset="0.2" stop-color="#e8e8e8"/><stop offset="0.3" stop-color="#e7e7e7"/><stop offset="0.4" stop-color="#e6e6e6"/><stop offset="0.5" stop-color="#e4e4e4"/><stop offset="0.6" stop-color="#e2e2e2"/><stop offset="0.7" stop-color="#dfdfdf"/><stop offset="0.8" stop-color="#dbdbdb"/><stop offset="0.9" stop-color="#d7d7d7"/><stop offset="1" stop-color="#d3d3d3"/></linearGradient>
<linearGradient id="s63" gradientUnits="userSpaceOnUse" x1="889.0" y1="0" x2="1777.0" y2="0" spreadMethod="reflect"><stop offset="0" stop-color="#e9e9e9"/><stop offset="0.1" stop-color="#e9e9e9"/><stop offset="0.2" stop-color="#e8e8e8"/><stop offset="0.3" stop-color="#e7e7e7"/><stop offset="0.4" stop-color="#e6e6e6"/><stop offset="0.5" stop-color="#e4e4e4"/><stop offset="0.6" stop-color="#e1e1e1"/><stop offset="0.7" stop-color="#dedede"/><stop offset="0.8" stop-color="#dbdbdb"/><stop offset="0.9" stop-color="#d7d7d7"/><stop offset="1" stop-color="#d3d3d3"/></linearGradient>
<linearGradient id="s64" gradientUnits="userSpaceOnUse" x1="889.0" y1="0" x2="1777.0" y2="0" spreadMethod="reflect"><stop offset="0" stop-color="#e8e8e8"/><stop offset="0.1" stop-color="#e8e8e8"/><stop offset="0.2" stop-color="#e8e8e8"/><stop offset="0.3" stop-color="#e7e7e7"/><stop offset="0.4" stop-color="#e5e5e5"/><stop offset="0.5" stop-color="#e3e3e3"/><stop offset="0.6" stop-color="#e1e1e1"/><stop offset="0.7" stop-color="#dedede"/><stop offset="0.8" stop-color="#dbdbdb"/><stop offset="0.9" stop-color="#d7d7d7"/><stop offset="1" stop-color="#d2d2d2"/></linearGradient>
<linearGradient id="s65" gradientUnits="userSpaceOnUse" x1="889.0" y1="0" x2="1777.0" y2="0" spreadMethod="reflect"><stop offset="0" stop-color="#e8e8e8"/><stop offset="0.1" stop-color="#e8e8e8"/><stop offset="0.2" stop-color="#e7e7e7"/><stop offset="0.3" stop-color="#e6e6e6"/><stop offset="0.4" stop-color="#e5e5e5"/><stop offset="0.5" stop-color="#e3e3e3"/><stop offset="0.6" stop-color="#e1e1e1"/><stop offset="0.7" stop-color="#dedede"/><stop offset="0.8" stop-color="#dbdbdb"/><stop offset="0.9" stop-color="#d7d7d7"/><stop offset="1" stop-color="#d2d2d2"/></linearGradient>
<linearGradient id="s66" gradientUnits="userSpaceOnUse" x1="889.0" y1="0" x2="1777.0" y2="0" spreadMethod="reflect"><stop offset="0" stop-color="#e8e8e8"/><stop offset="0.1" stop-color="#e8e8e8"/><stop offset="0.2" stop-color="#e7e7e7"/><stop offset="0.3" stop-color="#e6e6e6"/><stop offset="0.4" stop-color="#e5e5e5"/><stop offset="0.5" stop-color="#e3e3e3"/><stop offset="0.6" stop-color="#e0e0e0"/><stop offset="0.7" stop-color="#dedede"/><stop offset="0.8" stop-color="#dadada"/><stop offset="0.9" stop-color="#d6d6d6"/><stop offset="1" stop-color="#d2d2d2"/></linearGradient>
<linearGradient id="s67" gradientUnits="userSpaceOnUse" x1="889.0" y1="0" x2="1777.0" y2="0" spreadMethod="reflect"><stop offset="0" stop-color="#e7e7e7"/><stop offset="0.1" stop-color="#e7e7e7"/><stop offset="0.2" stop-color="#e7e7e7"/><stop offset="0.3" stop-color="#e6e6e6"/><stop offset="0.4" stop-color="#e4e4e4"/><stop offset="0.5" stop-color="#e2e2e2"/><stop offset="0.6" stop-color="#e0e0e0"/><stop offset="0.7" stop-color="#dddddd"/><stop offset="0.8" stop-color="#dadada"/><stop offset="0.9" stop-color="#d6d6d6"/><stop offset="1" stop-color="#d2d2d2"/></linearGradient>
<linearGradient id="s68" gradientUnits="userSpaceOnUse" x1="889.0" y1="0" x2="1777.0" y2="0" spreadMethod="reflect"><stop offset="0" stop-color="#e7e7e7"/><stop offset="0.1" stop-color="#e7e7e7"/><stop offset="0.2" stop-color="#e6e6e6"/><stop offset="0.3" stop-color="#e5e5e5"/><stop offset="0.4" stop-color="#e4e4e4"/><stop offset="0.5" stop-color="#e2e2e2"/><stop offset="0.6" stop-color="#e0e0e0"/><stop offset="0.7" stop-color="#dddddd"/><stop offset="0.8" stop-color="#dadada"/><stop offset="0.9" stop-color="#d6d6d6"/><stop offset="1" stop-color="#d2d2d2"/></linearGradient>
<linearGradient id="s69" gradientUnits="userSpaceOnUse" x1="889.0" y1="0" x2="1777.0" y2="0" spreadMethod="reflect"><stop offset="0" stop-color="#e7e7e7"/><stop offset="0.1" stop-color="#e6e6e6"/><stop offset="0.2" stop-color="#e6e6e6"/><stop offset="0.3" stop-color="#e5e5e5"/><stop offset="0.4" stop-color="#e3e3e3"/><stop offset="0.5" stop-color="#e2e2e2"/><stop offset="0.6" stop-color="#dfdfdf"/><stop offset="0.7" stop-color="#dddddd"/><stop offset="0.8" stop-color="#d9d9d9"/><stop offset="0.9" stop-color="#d6d6d6"/><stop offset="1" stop-color="#d1d1d1"/></linearGradient>
<linearGradient id="s70" gradientUnits="userSpaceOnUse" x1="889.0" y1="0" x2="1777.0" y2="0" spreadMethod="reflect"><stop offset="0" stop-color="#e6e6e6"/><stop offset="0.1" stop-color="#e6e6e6"/><stop offset="0.2" stop-color="#e6e6e6"/><stop offset="0.3" stop-color="#e5e5e5"/><stop offset="0.4" stop-color="#e3e3e3"/><stop offset="0.5" stop-color="#e1e1e1"/><stop offset="0.6" stop-color="#dfdfdf"/><stop offset="0.7" stop-color="#dcdcdc"/><stop offset="0.8" stop-color="#d9d9d9"/><stop offset="0.9" stop-color="#d6d6d6"/><stop offset="1" stop-color="#d1d1d1"/></linearGradient>
<linearGradient id="s71" gradientUnits="userSpaceOnUse" x1="889.0" y1="0" x2="1777.0" y2="0" spreadMethod="reflect"><stop offset="0" stop-color="#e6e6e6"/><stop offset="0.1" stop-color="#e6e6e6"/><stop offset="0.2" stop-color="#e5e5e5"/><stop offset="0.3" stop-color="#e4e4e4"/><stop offset="0.4" stop-color="#e3e3e3"/><stop offset="0.5" stop-color="#e1e1e1"/><stop offset="0.6" stop-color="#dfdfdf"/><stop offset="0.7" stop-color="#dcdcdc"/><stop offset="0.8" stop-color="#d9d9d9"/><stop offset="0.9" stop-color="#d5d5d5"/><stop offset="1" stop-color="#d1d1d1"/></linearGradient>
<linearGradient id="s72" gradientUnits="userSpaceOnUse" x1="889.0" y1="0" x2="1777.0" y2="0" spreadMethod="reflect"><stop offset="0" stop-color="#e6e6e6"/><stop offset="0.1" stop-color="#e5e5e5"/><stop offset="0.2" stop-color="#e5e5e5"/><stop offset="0.3" stop-color="#e4e4e4"/><stop offset="0.4" stop-color="#e2e2e2"/><stop offset="0.5" stop-color="#e1e1e1"/><stop offset="0.6" stop-color="#dedede"/><stop offset="0.7" stop-color="#dcdcdc"/><stop offset="0.8" stop-color="#d9d9d9"/><stop offset="0.9" stop-color="#d5d5d5"/><stop offset="1" stop-color="#d1d1d1"/></linearGradient>
<linearGradient id="s73" gradientUnits="userSpaceOnUse" x1="889.0" y1="0" x2="1777.0" y2="0" spreadMethod="reflect"><stop offset="0" stop-color="#e5e5e5"/><stop offset="0.1" stop-color="#e5e5e5"/><stop offset="0.2" stop-color="#e4e4e4"/><stop offset="0.3" stop-color="#e3e3e3"/><stop offset="0.4" stop-color="#e2e2e2"/><stop offset="0.5" stop-color="#e0e0e0"/><stop offset="0.6" stop-color="#dedede"/><stop offset="0.7" stop-color="#dcdcdc"/><stop offset="0.8" stop-color="#d8d8d8"/><stop offset="0.9" stop-color="#d5d5d5"/><stop offset="1" stop-color="#d1d1d1"/></linearGradient>
<linearGradient id="s74" gradientUnits="userSpaceOnUse" x1="889.0" y1="0" x2="1777.0" y2="0" spreadMethod="reflect"><stop offset="0" stop-color="#e5e5e5"/><stop offset="0.1" stop-color="#e5e5e5"/><stop offset="0.2" stop-color="#e4e4e4"/><stop offset="0.3" stop-color="#e3e3e3"/><stop offset="0.4" stop-color="#e2e2e2"/><stop offset="0.5" stop-color="#e0e0e0"/><stop offset="0.6" stop-color="#dedede"/><stop offset="0.7" stop-color="#dbdbdb"/><stop offset="0.8" stop-color="#d8d8d8"/><stop offset="0.9" stop-color="#d5d5d5"/><stop offset="1" stop-color="#d0d0d0"/></linearGradient>
<linearGradient id="s75" gradientUnits="userSpaceOnUse" x1="889.0" y1="0" x2="1777.0" y2="0" spreadMethod="reflect"><stop offset="0" stop-color="#e4e4e4"/><stop offset="0.1" stop-color="#e4e4e4"/><stop offset="0.2" stop-color="#e4e4e4"/><stop offset="0.3" stop-color="#e3e3e3"/><stop offset="0.4" stop-color="#e1e1e1"/><stop offset="0.5" stop-color="#e0e0e0"/><stop offset="0.6" stop-color="#dedede"/><stop offset="0.7" stop-color="#dbdbdb"/><stop offset="0.8" stop-color="#d8d8d8"/><stop offset="0.9" stop-color="#d4d4d4"/><stop offset="1" stop-color="#d0d0d0"/></linearGradient>
<linearGradient id="s76" gradientUnits="userSpaceOnUse" x1="889.0" y1="0" x2="1777.0" y2="0" spreadMethod="reflect"><stop offset="0" stop-color="#e4e4e4"/><stop offset="0.1" stop-color="#e4e4e4"/><stop offset="0.2" stop-color="#e3e3e3"/><stop offset="0.3" stop-color="#e2e2e2"/><stop offset="0.4" stop-color="#e1e1e1"/><stop offset="0.5" stop-color="#dfdfdf"/><stop offset="0.6" stop-color="#dddddd"/><stop offset="0.7" stop-color="#dbdbdb"/><stop offset="0.8" stop-color="#d8d8d8"/><stop offset="0.9" stop-color="#d4d4d4"/><stop offset="1" stop-color="#d0d0d0"/></linearGradient>
<linearGradient id="s77" gradientUnits="userSpaceOnUse" x1="889.0" y1="0" x2="1777.0" y2="0" spreadMethod="reflect"><stop offset="0" stop-color="#e4e4e4"/><stop offset="0.1" stop-color="#e4e4e4"/><stop offset="0.2" stop-color="#e3e3e3"/><stop offset="0.3" stop-color="#e2e2e2"/><stop offset="0.4" stop-color="#e1e1e1"/><stop offset="0.5" stop-color="#dfdfdf"/><stop offset="0.6" stop-color="#dddddd"/><stop offset="0.7" stop-color="#dadada"/><stop offset="0.8" stop-color="#d7d7d7"/><stop offset="0.9" stop-color="#d4d4d4"/><stop offset="1" stop-color="#d0d0d0"/></linearGradient>
<linearGradient id="s78" gradientUnits="userSpaceOnUse" x1="889.0" y1="0" x2="1777.0" y2="0" spreadMethod="reflect"><stop offset="0" stop-color="#e3e3e3"/><stop offset="0.1" stop-color="#e3e3e3"/><stop offset="0.2" stop-color="#e3e3e3"/><stop offset="0.3" stop-color="#e2e2e2"/><stop offset="0.4" stop-color="#e0e0e0"/><stop offset="0.5" stop-color="#dfdfdf"/><stop offset="0.6" stop-color="#dddddd"/><stop offset="0.7" stop-color="#dadada"/><stop offset="0.8" stop-color="#d7d7d7"/><stop offset="0.9" stop-color="#d4d4d4"/><stop offset="1" stop-color="#cfcfcf"/></linearGradient>
<linearGradient id="s79" gradientUnits="userSpaceOnUse" x1="889.0" y1="0" x2="1777.0" y2="0" spreadMethod="reflect"><stop offset="0" stop-color="#e3e3e3"/><stop offset="0.1" stop-color="#e3e3e3"/><stop offset="0.2" stop-color="#e2e2e2"/><stop offset="0.3" stop-color="#e1e1e1"/><stop offset="0.4" stop-color="#e0e0e0"/><stop offset="0.5" stop-color="#dedede"/><stop offset="0.6" stop-color="#dcdcdc"/><stop offset="0.7" stop-color="#dadada"/><stop offset="0.8" stop-color="#d7d7d7"/><stop offset="0.9" stop-color="#d3d3d3"/><stop offset="1" stop-color="#cfcfcf"/></linearGradient>
<linearGradient id="s80" gradientUnits="userSpaceOnUse" x1="889.0" y1="0" x2="1777.0" y2="0" spreadMethod="reflect"><stop offset="0" stop-color="#e3e3e3"/><stop offset="0.1" stop-color="#e2e2e2"/><stop offset="0.2" stop-color="#e2e2e2"/><stop offset="0.3" stop-color="#e1e1e1"/><stop offset="0.4" stop-color="#e0e0e0"/><stop offset="0.5" stop-color="#dedede"/><stop offset="0.6" stop-color="#dcdcdc"/><stop offset="0.7" stop-color="#d9d9d9"/><stop offset="0.8" stop-color="#d6d6d6"/><stop offset="0.9" stop-color="#d3d3d3"/><stop offset="1" stop-color="#cfcfcf"/></linearGradient>
<linearGradient id="s81" gradientUnits="userSpaceOnUse" x1="889.0" y1="0" x2="1777.0" y2="0" spreadMethod="reflect"><stop offset="0" stop-color="#e2e2e2"/><stop offset="0.1" stop-color="#e2e2e2"/><stop offset="0.2" stop-color="#e2e2e2"/><stop offset="0.3" stop-color="#e1e1e1"/><stop offset="0.4" stop-color="#dfdfdf"/><stop offset="0.5" stop-color="#dedede"/><stop offset="0.6" stop-color="#dcdcdc"/><stop offset="0.7" stop-color="#d9d9d9"/><stop offset="0.8" stop-color="#d6d6d6"/><stop offset="0.9" stop-color="#d3d3d3"/><stop offset="1" stop-color="#cfcfcf"/></linearGradient>
<linearGradient id="s82" gradientUnits="userSpaceOnUse" x1="889.0" y1="0" x2="1777.0" y2="0" spreadMethod="reflect"><stop offset="0" stop-color="#e2e2e2"/><stop offset="0.1" stop-color="#e2e2e2"/><stop offset="0.2" stop-color="#e1e1e1"/><stop offset="0.3" stop-color="#e0e0e0"/><stop offset="0.4" stop-color="#dfdfdf"/><stop offset="0.5" stop-color="#dddddd"/><stop offset="0.6" stop-color="#dbdbdb"/><stop offset="0.7" stop-color="#d9d9d9"/><stop offset="0.8" stop-color="#d6d6d6"/><stop offset="0.9" stop-color="#d2d2d2"/><stop offset="1" stop-color="#cfcfcf"/></linearGradient>
<linearGradient id="s83" gradientUnits="userSpaceOnUse" x1="889.0" y1="0" x2="1777.0" y2="0" spreadMethod="reflect"><stop offset="0" stop-color="#e2e2e2"/><stop offset="0.1" stop-color="#e1e1e1"/><stop offset="0.2" stop-color="#e1e1e1"/><stop offset="0.3" stop-color="#e0e0e0"/><stop offset="0.4" stop-color="#dfdfdf"/><stop offset="0.5" stop-color="#dddddd"/><stop offset="0.6" stop-color="#dbdbdb"/><stop offset="0.7" stop-color="#d8d8d8"/><stop offset="0.8" stop-color="#d6d6d6"/><stop offset="0.9" stop-color="#d2d2d2"/><stop offset="1" stop-color="#cecece"/></linearGradient>
<linearGradient id="s84" gradientUnits="userSpaceOnUse" x1="889.0" y1="0" x2="1777.0" y2="0" spreadMethod="reflect"><stop offset="0" stop-color="#e1e1e1"/><stop offset="0.1" stop-color="#e1e1e1"/><stop offset="0.2" stop-color="#e0e0e0"/><stop offset="0.3" stop-color="#e0e0e0"/><stop offset="0.4" stop-color="#dedede"/><stop offset="0.5" stop-color="#dddddd"/><stop offset="0.6" stop-color="#dbdbdb"/><stop offset="0.7" stop-color="#d8d8d8"/><stop offset="0.8" stop-color="#d5d5d5"/><stop offset="0.9" stop-color="#d2d2d2"/><stop offset="1" stop-color="#cecece"/></linearGradient>
<linearGradient id="s85" gradientUnits="userSpaceOnUse" x1="889.0" y1="0" x2="1777.0" y2="0" spreadMethod="reflect"><stop offset="0" stop-color="#e1e1e1"/><stop offset="0.1" stop-color="#e1e1e1"/><stop offset="0.2" stop-color="#e0e0e0"/><stop offset="0.3" stop-color="#dfdfdf"/><stop offset="0.4" stop-color="#dedede"/><stop offset="0.5" stop-color="#dcdcdc"/><stop offset="0.6" stop-color="#dadada"/><stop offset="0.7" stop-color="#d8d8d8"/><stop offset="0.8" stop-color="#d5d5d5"/><stop offset="0.9" stop-color="#d2d2d2"/><stop offset="1" stop-color="#cecece"/></linearGradient>
<linearGradient id="s86" gradientUnits="userSpaceOnUse" x1="889.0" y1="0" x2="1777.0" y2="0" spreadMethod="reflect"><stop offset="0" stop-color="#e0e0e0"/><stop offset="0.1" stop-color="#e0e0e0"/><stop offset="0.2" stop-color="#e0e0e0"/><stop offset="0.3" stop-color="#dfdfdf"/><stop offset="0.4" stop-color="#dedede"/><stop offset="0.5" stop-color="#dcdcdc"/><stop offset="0.6" stop-color="#dadada"/><stop offset="0.7" stop-color="#d8d8d8"/><stop offset="0.8" stop-color="#d5d5d5"/><stop offset="0.9" stop-color="#d1d1d1"/><stop offset="1" stop-color="#cecece"/></linearGradient>
<linearGradient id="s87" gradientUnits="userSpaceOnUse" x1="889.0" y1="0" x2="1777.0" y2="0" spreadMethod="reflect"><stop offset="0" stop-color="#e0e0e0"/><stop offset="0.1" stop-color="#e0e0e0"/><stop offset="0.2" stop-color="#dfdfdf"/><stop offset="0.3" stop-color="#dedede"/><stop offset="0.4" stop-color="#dddddd"/><stop offset="0.5" stop-color="#dcdcdc"/><stop offset="0.6" stop-color="#dadada"/><stop offset="0.7" stop-color="#d7d7d7"/><stop offset="0.8" stop-color="#d4d4d4"/><stop offset="0.9" stop-color="#d1d1d1"/><stop offset="1" stop-color="#cdcdcd"/></linearGradient>
<linearGradient id="s88" gradientUnits="userSpaceOnUse" x1="889.0" y1="0" x2="1777.0" y2="0" spreadMethod="reflect"><stop offset="0" stop-color="#e0e0e0"/><stop offset="0.1" stop-color="#e0e0e0"/><stop offset="0.2" stop-color="#dfdfdf"/><stop offset="0.3" stop-color="#dedede"/><stop offset="0.4" stop-color="#dddddd"/><stop offset="0.5" stop-color="#dbdbdb"/><stop offset="0.6" stop-color="#d9d9d9"/><stop offset="0.7" stop-color="#d7d7d7"/><stop offset="0.8" stop-color="#d4d4d4"/><stop offset="0.9" stop-color="#d1d1d1"/><stop offset="1" stop-color="#cdcdcd"/></linearGradient>
<linearGradient id="s89" gradientUnits="userSpaceOnUse" x1="889.0" y1="0" x2="1777.0" y2="0" spreadMethod="reflect"><stop offset="0" stop-color="#dfdfdf"/><stop offset="0.1" stop-color="#dfdfdf"/><stop offset="0.2" stop-color="#dfdfdf"/><stop offset="0.3" stop-color="#dedede"/><stop offset="0.4" stop-color="#dddddd"/><stop offset="0.5" stop-color="#dbdbdb"/><stop offset="0.6" stop-color="#d9d9d9"/><stop offset="0.7" stop-color="#d7d7d7"/><stop offset="0.8" stop-color="#d4d4d4"/><stop offset="0.9" stop-color="#d1d1d1"/><stop offset="1" stop-color="#cdcdcd"/></linearGradient>
<linearGradient id="s90" gradientUnits="userSpaceOnUse" x1="889.0" y1="0" x2="1777.0" y2="0" spreadMethod="reflect"><stop offset="0" stop-color="#dfdfdf"/><stop offset="0.1" stop-color="#dfdfdf"/><stop offset="0.2" stop-color="#dedede"/><stop offset="0.3" stop-color="#dddddd"/><stop offset="0.4" stop-color="#dcdcdc"/><stop offset="0.5" stop-color="#dbdbdb"/><stop offset="0.6" stop-color="#d9d9d9"/><stop offset="0.7" stop-color="#d6d6d6"/><stop offset="0.8" stop-color="#d4d4d4"/><stop offset="0.9" stop-color="#d0d0d0"/><stop offset="1" stop-color="#cdcdcd"/></linearGradient>
<linearGradient id="s91" gradientUnits="userSpaceOnUse" x1="889.0" y1="0" x2="1777.0" y2="0" spreadMethod="reflect"><stop offset="0" stop-color="#dfdfdf"/><stop offset="0.1" stop-color="#dedede"/><stop offset="0.2" stop-color="#dedede"/><stop offset="0.3" stop-color="#dddddd"/><stop offset="0.4" stop-color="#dcdcdc"/><stop offset="0.5" stop-color="#dadada"/><stop offset="0.6" stop-color="#d8d8d8"/><stop offset="0.7" stop-color="#d6d6d6"/><stop offset="0.8" stop-color="#d3d3d3"/><stop offset="0.9" stop-color="#d0d0d0"/><stop offset="1" stop-color="#cccccc"/></linearGradient>
<linearGradient id="s92" gradientUnits="userSpaceOnUse" x1="889.0" y1="0" x2="1777.0" y2="0" spreadMethod="reflect"><stop offset="0" stop-color="#dedede"/><stop offset="0.1" stop-color="#dedede"/><stop offset="0.2" stop-color="#dedede"/><stop offset="0.3" stop-color="#dddddd"/><stop offset="0.4" stop-color="#dbdbdb"/><stop offset="0.5" stop-color="#dadada"/><stop offset="0.6" stop-color="#d8d8d8"/><stop offset="0.7" stop-color="#d6d6d6"/><stop offset="0.8" stop-color="#d3d3d3"/><stop offset="0.9" stop-color="#d0d0d0"/><stop offset="1" stop-color="#cccccc"/></linearGradient>
<linearGradient id="s93" gradientUnits="userSpaceOnUse" x1="889.0" y1="0" x2="1777.0" y2="0" spreadMethod="reflect"><stop offset="0" stop-color="#dedede"/><stop offset="0.1" stop-color="#dedede"/><stop offset="0.2" stop-color="#dddddd"/><stop offset="0.3" stop-color="#dcdcdc"/><stop offset="0.4" stop-color="#dbdbdb"/><stop offset="0.5" stop-color="#dadada"/><stop offset="0.6" stop-color="#d8d8d8"/><stop offset="0.7" stop-color="#d5d5d5"/><stop offset="0.8" stop-color="#d3d3d3"/><stop offset="0.9" stop-color="#cfcfcf"/><stop offset="1" stop-color="#cccccc"/></linearGradient>
<linearGradient id="s94" gradientUnits="userSpaceOnUse" x1="889.0" y1="0" x2="1777.0" y2="0" spreadMethod="reflect"><stop offset="0" stop-color="#dedede"/><stop offset="0.1" stop-color="#dddddd"/><stop offset="0.2" stop-color="#dddddd"/><stop offset="0.3" stop-color="#dcdcdc"/><stop offset="0.4" stop-color="#dbdbdb"/><stop offset="0.5" stop-color="#d9d9d9"/><stop offset="0.6" stop-color="#d7d7d7"/><stop offset="0.7" stop-color="#d5d5d5"/><stop offset="0.8" stop-color="#d2d2d2"/><stop offset="0.9" stop-color="#cfcfcf"/><stop offset="1" stop-color="#cccccc"/></linearGradient>
<linearGradient id="s95" gradientUnits="userSpaceOnUse" x1="889.0" y1="0" x2="1777.0" y2="0" spreadMethod="reflect"><stop offset="0" stop-color="#dddddd"/><stop offset="0.1" stop-color="#dddddd"/><stop offset="0.2" stop-color="#dcdcdc"/><stop offset="0.3" stop-color="#dcdcdc"/><stop offset="0.4" stop-color="#dadada"/><stop offset="0.5" stop-color="#d9d9d9"/><stop offset="0.6" stop-color="#d7d7d7"/><stop offset="0.7" stop-color="#d5d5d5"/><stop offset="0.8" stop-color="#d2d2d2"/><stop offset="0.9" stop-color="#cfcfcf"/><stop offset="1" stop-color="#cbcbcb"/></linearGradient>
<linearGradient id="s96" gradientUnits="userSpaceOnUse" x1="889.0" y1="0" x2="1777.0" y2="0" spreadMethod="reflect"><stop offset="0" stop-color="#dddddd"/><stop offset="0.1" stop-color="#dddddd"/><stop offset="0.2" stop-color="#dcdcdc"/><stop offset="0.3" stop-color="#dbdbdb"/><stop offset="0.4" stop-color="#dadada"/><stop offset="0.5" stop-color="#d9d9d9"/><stop offset="0.6" stop-color="#d7d7d7"/><stop offset="0.7" stop-color="#d4d4d4"/><stop offset="0.8" stop-color="#d2d2d2"/><stop offset="0.9" stop-color="#cfcfcf"/><stop offset="1" stop-color="#cbcbcb"/></linearGradient>
<linearGradient id="s97" gradientUnits="userSpaceOnUse" x1="889.0" y1="0" x2="1777.0" y2="0" spreadMethod="reflect"><stop offset="0" stop-color="#dcdcdc"/><stop offset="0.1" stop-color="#dcdcdc"/><stop offset="0.2" stop-color="#dcdcdc"/><stop offset="0.3" stop-color="#dbdbdb"/><stop offset="0.4" stop-color="#dadada"/><stop offset="0.5" stop-color="#d8d8d8"/><stop offset="0.6" stop-color="#d6d6d6"/><stop offset="0.7" stop-color="#d4d4d4"/><stop offset="0.8" stop-color="#d1d1d1"/><stop offset="0.9" stop-color="#cecece"/><stop offset="1" stop-color="#cbcbcb"/></linearGradient>
<linearGradient id="s98" gradientUnits="userSpaceOnUse" x1="889.0" y1="0" x2="1777.0" y2="0" spreadMethod="reflect"><stop offset="0" stop-color="#dcdcdc"/><stop offset="0.1" stop-color="#dcdcdc"/><stop offset="0.2" stop-color="#dbdbdb"/><stop offset="0.3" stop-color="#dbdbdb"/><stop offset="0.4" stop-color="#d9d9d9"/><stop offset="0.5" stop-color="#d8d8d8"/><stop offset="0.6" stop-color="#d6d6d6"/><stop offset="0.7" stop-color="#d4d4d4"/><stop offset="0.8" stop-color="#d1d1d1"/><stop offset="0.9" stop-color="#cecece"/><stop offset="1" stop-color="#cbcbcb"/></linearGradient>
<linearGradient id="s99" gradientUnits="userSpaceOnUse" x1="889.0" y1="0" x2="1777.0" y2="0" spreadMethod="reflect"><stop offset="0" stop-color="#dcdcdc"/><stop offset="0.1" stop-color="#dcdcdc"/><stop offset="0.2" stop-color="#dbdbdb"/><stop offset="0.3" stop-color="#dadada"/><stop offset="0.4" stop-color="#d9d9d9"/><stop offset="0.5" stop-color="#d8d8d8"/><stop offset="0.6" stop-color="#d6d6d6"/><stop offset="0.7" stop-color="#d3d3d3"/><stop offset="0.8" stop-color="#d1d1d1"/><stop offset="0.9" stop-color="#cecece"/><stop offset="1" stop-color="#cacaca"/></linearGradient>
<linearGradient id="s100" gradientUnits="userSpaceOnUse" x1="889.0" y1="0" x2="1777.0" y2="0" spreadMethod="reflect"><stop offset="0" stop-color="#dbdbdb"/><stop offset="0.1" stop-color="#dbdbdb"/><stop offset="0.2" stop-color="#dbdbdb"/><stop offset="0.3" stop-color="#dadada"/><stop offset="0.4" stop-color="#d9d9d9"/><stop offset="0.5" stop-color="#d7d7d7"/><stop offset="0.6" stop-color="#d5d5d5"/><stop offset="0.7" stop-color="#d3d3d3"/><stop offset="0.8" stop-color="#d1d1d1"/><stop offset="0.9" stop-color="#cecece"/><stop offset="1" stop-color="#cacaca"/></linearGradient>
<linearGradient id="s101" gradientUnits="userSpaceOnUse" x1="889.0" y1="0" x2="1777.0" y2="0" spreadMethod="reflect"><stop offset="0" stop-color="#dbdbdb"/><stop offset="0.1" stop-color="#dbdbdb"/><stop offset="0.2" stop-color="#dadada"/><stop offset="0.3" stop-color="#d9d9d9"/><stop offset="0.4" stop-color="#d8d8d8"/><stop offset="0.5" stop-color="#d7d7d7"/><stop offset="0.6" stop-color="#d5d5d5"/><stop offset="0.7" stop-color="#d3d3d3"/><stop offset="0.8" stop-color="#d0d0d0"/><stop offset="0.9" stop-color="#cdcdcd"/><stop offset="1" stop-color="#cacaca"/></linearGradient>
<linearGradient id="s102" gradientUnits="userSpaceOnUse" x1="889.0" y1="0" x2="1777.0" y2="0" spreadMethod="reflect"><stop offset="0" stop-color="#dbdbdb"/><stop offset="0.1" stop-color="#dadada"/><stop offset="0.2" stop-color="#dadada"/><stop offset="0.3" stop-color="#d9d9d9"/><stop offset="0.4" stop-color="#d8d8d8"/><stop offset="0.5" stop-color="#d7d7d7"/><stop offset="0.6" stop-color="#d5d5d5"/><stop offset="0.7" stop-color="#d2d2d2"/><stop offset="0.8" stop-color="#d0d0d0"/><stop offset="0.9" stop-color="#cdcdcd"/><stop offset="1" stop-color="#cacaca"/></linearGradient>
<linearGradient id="s103" gradientUnits="userSpaceOnUse" x1="889.0" y1="0" x2="1777.0" y2="0" spreadMethod="reflect"><stop offset="0" stop-color="#dadada"/><stop offset="0.1" stop-color="#dadada"/><stop offset="0.2" stop-color="#dadada"/><stop offset="0.3" stop-color="#d9d9d9"/><stop offset="0.4" stop-color="#d8d8d8"/><stop offset="0.5" stop-color="#d6d6d6"/><stop offset="0.6" stop-color="#d4d4d4"/><stop offset="0.7" stop-color="#d2d2d2"/><stop offset="0.8" stop-color="#d0d0d0"/><stop offset="0.9" stop-color="#cdcdcd"/><stop offset="1" stop-color="#c9c9c9"/></linearGradient>
<linearGradient id="s104" gradientUnits="userSpaceOnUse" x1="889.0" y1="0" x2="1777.0" y2="0" spreadMethod="reflect"><stop offset="0" stop-color="#dadada"/><stop offset="0.1" stop-color="#dadada"/><stop offset="0.2" stop-color="#d9d9d9"/><stop offset="0.3" stop-color="#d8d8d8"/><stop offset="0.4" stop-color="#d7d7d7"/><stop offset="0.5" stop-color="#d6d6d6"/><stop offset="0.6" stop-color="#d4d4d4"/><stop offset="0.7" stop-color="#d2d2d2"/><stop offset="0.8" stop-color="#cfcfcf"/><stop offset="0.9" stop-color="#cccccc"/><stop offset="1" stop-color="#c9c9c9"/></linearGradient>
<linearGradient id="s105" gradientUnits="userSpaceOnUse" x1="889.0" y1="0" x2="1777.0" y2="0" spreadMethod="reflect"><stop offset="0" stop-color="#dadada"/><stop offset="0.1" stop-color="#d9d9d9"/><stop offset="0.2" stop-color="#d9d9d9"/><stop offset="0.3" stop-color="#d8d8d8"/><stop offset="0.4" stop-color="#d7d7d7"/><stop offset="0.5" stop-color="#d5d5d5"/><stop offset="0.6" stop-color="#d4d4d4"/><stop offset="0.7" stop-color="#d2d2d2"/><stop offset="0.8" stop-color="#cfcfcf"/><stop offset="0.9" stop-color="#cccccc"/><stop offset="1" stop-color="#c9c9c9"/></linearGradient>
<linearGradient id="s106" gradientUnits="userSpaceOnUse" x1="889.0" y1="0" x2="1777.0" y2="0" spreadMethod="reflect"><stop offset="0" stop-color="#d9d9d9"/><stop offset="0.1" stop-color="#d9d9d9"/><stop offset="0.2" stop-color="#d9d9d9"/><stop offset="0.3" stop-color="#d8d8d8"/><stop offset="0.4" stop-color="#d7d7d7"/><stop offset="0.5" stop-color="#d5d5d5"/><stop offset="0.6" stop-color="#d3d3d3"/><stop offset="0.7" stop-color="#d1d1d1"/><stop offset="0.8" stop-color="#cfcfcf"/><stop offset="0.9" stop-color="#cccccc"/><stop offset="1" stop-color="#c8c8c8"/></linearGradient>
<linearGradient id="s107" gradientUnits="userSpaceOnUse" x1="889.0" y1="0" x2="1777.0" y2="0" spreadMethod="reflect"><stop offset="0" stop-color="#d9d9d9"/><stop offset="0.1" stop-color="#d9d9d9"/><stop offset="0.2" stop-color="#d8d8d8"/><stop offset="0.3" stop-color="#d7d7d7"/><stop offset="0.4" stop-color="#d6d6d6"/><stop offset="0.5" stop-color="#d5d5d5"/><stop offset="0.6" stop-color="#d3d3d3"/><stop offset="0.7" stop-color="#d1d1d1"/><stop offset="0.8" stop-color="#cecece"/><stop offset="0.9" stop-color="#cbcbcb"/><stop offset="1" stop-color="#c8c8c8"/></linearGradient>
<linearGradient id="s108" gradientUnits="userSpaceOnUse" x1="889.0" y1="0" x2="1777.0" y2="0" spreadMethod="reflect"><stop offset="0" stop-color="#d8d8d8"/><stop offset="0.1" stop-color="#d8d8d8"/><stop offset="0.2" stop-color="#d8d8d8"/><stop offset="0.3" stop-color="#d7d7d7"/><stop offset="0.4" stop-color="#d6d6d6"/><stop offset="0.5" stop-color="#d4d4d4"/><stop offset="0.6" stop-color="#d3d3d3"/><stop offset="0.7" stop-color="#d1d1d1"/><stop offset="0.8" stop-color="#cecece"/><stop offset="0.9" stop-color="#cbcbcb"/><stop offset="1" stop-color="#c8c8c8"/></linearGradient>
<linearGradient id="s109" gradientUnits="userSpaceOnUse" x1="889.0" y1="0" x2="1777.0" y2="0" spreadMethod="reflect"><stop offset="0" stop-color="#d8d8d8"/><stop offset="0.1" stop-color="#d8d8d8"/><stop offset="0.2" stop-color="#d7d7d7"/><stop offset="0.3" stop-color="#d7d7d7"/><stop offset="0.4" stop-color="#d6d6d6"/><stop offset="0.5" stop-color="#d4d4d4"/><stop offset="0.6" stop-color="#d2d2d2"/><stop offset="0.7" stop-color="#d0d0d0"/><stop offset="0.8" stop-color="#cecece"/><stop offset="0.9" stop-color="#cbcbcb"/><stop offset="1" stop-color="#c8c8c8"/></linearGradient>
<linearGradient id="s110" gradientUnits="userSpaceOnUse" x1="889.0" y1="0" x2="1777.0" y2="0" spreadMethod="reflect"><stop offset="0" stop-color="#d8d8d8"/><stop offset="0.1" stop-color="#d8d8d8"/><stop offset="0.2" stop-color="#d7d7d7"/><stop offset="0.3" stop-color="#d6d6d6"/><stop offset="0.4" stop-color="#d5d5d5"/><stop offset="0.5" stop-color="#d4d4d4"/><stop offset="0.6" stop-color="#d2d2d2"/><stop offset="0.7" stop-color="#d0d0d0"/><stop offset="0.8" stop-color="#cdcdcd"/><stop offset="0.9" stop-color="#cbcbcb"/><stop offset="1" stop-color="#c7c7c7"/></linearGradient>
<linearGradient id="s111" gradientUnits="userSpaceOnUse" x1="889.0" y1="0" x2="1777.0" y2="0" spreadMethod="reflect"><stop offset="0" stop-color="#d7d7d7"/><stop offset="0.1" stop-color="#d7d7d7"/><stop offset="0.2" stop-color="#d7d7d7"/><stop offset="0.3" stop-color="#d6d6d6"/><stop offset="0.4" stop-color="#d5d5d5"/><stop offset="0.5" stop-color="#d3d3d3"/><stop offset="0.6" stop-color="#d2d2d2"/><stop offset="0.7" stop-color="#d0d0d0"/><stop offset="0.8" stop-color="#cdcdcd"/><stop offset="0.9" stop-color="#cacaca"/><stop offset="1" stop-color="#c7c7c7"/></linearGradient>
<linearGradient id="s112" gradientUnits="userSpaceOnUse" x1="889.0" y1="0" x2="1777.0" y2="0" spreadMethod="reflect"><stop offset="0" stop-color="#d7d7d7"/><stop offset="0.1" stop-color="#d7d7d7"/><stop offset="0.2" stop-color="#d6d6d6"/><stop offset="0.3" stop-color="#d6d6d6"/><stop offset="0.4" stop-color="#d4d4d4"/><stop offset="0.5" stop-color="#d3d3d3"/><stop offset="0.6" stop-color="#d1d1d1"/><stop offset="0.7" stop-color="#cfcfcf"/><stop offset="0.8" stop-color="#cdcdcd"/><stop offset="0.9" stop-color="#cacaca"/><stop offset="1" stop-color="#c7c7c7"/></linearGradient>
<linearGradient id="s113" gradientUnits="userSpaceOnUse" x1="889.0" y1="0" x2="1777.0" y2="0" spreadMethod="reflect"><stop offset="0" stop-color="#d7d7d7"/><stop offset="0.1" stop-color="#d6d6d6"/><stop offset="0.2" stop-color="#d6d6d6"/><stop offset="0.3" stop-color="#d5d5d5"/><stop offset="0.4" stop-color="#d4d4d4"/><stop offset="0.5" stop-color="#d3d3d3"/><stop offset="0.6" stop-color="#d1d1d1"/><stop offset="0.7" stop-color="#cfcfcf"/><stop offset="0.8" stop-color="#cdcdcd"/><stop offset="0.9" stop-color="#cacaca"/><stop offset="1" stop-color="#c7c7c7"/></linearGradient>
<linearGradient id="s114" gradientUnits="userSpaceOnUse" x1="889.0" y1="0" x2="1777.0" y2="0" spreadMethod="reflect"><stop offset="0" stop-color="#d6d6d6"/><stop offset="0.1" stop-color="#d6d6d6"/><stop offset="0.2" stop-color="#d6d6d6"/><stop offset="0.3" stop-color="#d5d5d5"/><stop offset="0.4" stop-color="#d4d4d4"/><stop offset="0.5" stop-color="#d2d2d2"/><stop offset="0.6" stop-color="#d1d1d1"/><stop offset="0.7" stop-color="#cfcfcf"/><stop offset="0.8" stop-color="#cccccc"/><stop offset="0.9" stop-color="#c9c9c9"/><stop offset="1" stop-color="#c6c6c6"/></linearGradient>
<linearGradient id="s115" gradientUnits="userSpaceOnUse" x1="889.0" y1="0" x2="1777.0" y2="0" spreadMethod="reflect"><stop offset="0" stop-color="#d6d6d6"/><stop offset="0.1" stop-color="#d6d6d6"/><stop offset="0.2" stop-color="#d5d5d5"/><stop offset="0.3" stop-color="#d4d4d4"/><stop offset="0.4" stop-color="#d3d3d3"/><stop offset="0.5" stop-color="#d2d2d2"/><stop offset="0.6" stop-color="#d0d0d0"/><stop offset="0.7" stop-color="#cecece"/><stop offset="0.8" stop-color="#cccccc"/><stop offset="0.9" stop-color="#c9c9c9"/><stop offset="1" stop-color="#c6c6c6"/></linearGradient>
<linearGradient id="s116" gradientUnits="userSpaceOnUse" x1="889.0" y1="0" x2="1777.0" y2="0" spreadMethod="reflect"><stop offset="0" stop-color="#d5d5d5"/><stop offset="0.1" stop-color="#d5d5d5"/><stop offset="0.2" stop-color="#d5d5d5"/><stop offset="0.3" stop-color="#d4d4d4"/><stop offset="0.4" stop-color="#d3d3d3"/><stop offset="0.5" stop-color="#d2d2d2"/><stop offset="0.6" stop-color="#d0d0d0"/><stop offset="0.7" stop-color="#cecece"/><stop offset="0.8" stop-color="#cccccc"/><stop offset="0.9" stop-color="#c9c9c9"/><stop offset="1" stop-color="#c6c6c6"/></linearGradient>
<linearGradient id="s117" gradientUnits="userSpaceOnUse" x1="889.0" y1="0" x2="1777.0" y2="0" spreadMethod="reflect"><stop offset="0" stop-color="#d5d5d5"/><stop offset="0.1" stop-color="#d5d5d5"/><stop offset="0.2" stop-color="#d5d5d5"/><stop offset="0.3" stop-color="#d4d4d4"/><stop offset="0.4" stop-color="#d3d3d3"/><stop offset="0.5" stop-color="#d1d1d1"/><stop offset="0.6" stop-color="#d0d0d0"/><stop offset="0.7" stop-color="#cecece"/><stop offset="0.8" stop-color="#cbcbcb"/><stop offset="0.9" stop-color="#c9c9c9"/><stop offset="1" stop-color="#c5c5c5"/></linearGradient>
<linearGradient id="s118" gradientUnits="userSpaceOnUse" x1="889.0" y1="0" x2="1777.0" y2="0" spreadMethod="reflect"><stop offset="0" stop-color="#d5d5d5"/><stop offset="0.1" stop-color="#d5d5d5"/><stop offset="0.2" stop-color="#d4d4d4"/><stop offset="0.3" stop-color="#d3d3d3"/><stop offset="0.4" stop-color="#d2d2d2"/><stop offset="0.5" stop-color="#d1d1d1"/><stop offset="0.6" stop-color="#cfcfcf"/><stop offset="0.7" stop-color="#cdcdcd"/><stop offset="0.8" stop-color="#cbcbcb"/><stop offset="0.9" stop-color="#c8c8c8"/><stop offset="1" stop-color="#c5c5c5"/></linearGradient>
<linearGradient id="s119" gradientUnits="userSpaceOnUse" x1="889.0" y1="0" x2="1777.0" y2="0" spreadMethod="reflect"><stop offset="0" stop-color="#d4d4d4"/><stop offset="0.1" stop-color="#d4d4d4"/><stop offset="0.2" stop-color="#d4d4d4"/><stop offset="0.3" stop-color="#d3d3d3"/><stop offset="0.4" stop-color="#d2d2d2"/><stop offset="0.5" stop-color="#d1d1d1"/><stop offset="0.6" stop-color="#cfcfcf"/><stop offset="0.7" stop-color="#cdcdcd"/><stop offset="0.8" stop-color="#cbcbcb"/><stop offset="0.9" stop-color="#c8c8c8"/><stop offset="1" stop-color="#c5c5c5"/></linearGradient>
<linearGradient id="s120" gradientUnits="userSpaceOnUse" x1="889.0" y1="0" x2="1777.0" y2="0" spreadMethod="reflect"><stop offset="0" stop-color="#d4d4d4"/><stop offset="0.1" stop-color="#d4d4d4"/><stop offset="0.2" stop-color="#d3d3d3"/><stop offset="0.3" stop-color="#d3d3d3"/><stop offset="0.4" stop-color="#d2d2d2"/><stop offset="0.5" stop-color="#d0d0d0"/><stop offset="0.6" stop-color="#cfcfcf"/><stop offset="0.7" stop-color="#cdcdcd"/><stop offset="0.8" stop-color="#cacaca"/><stop offset="0.9" stop-color="#c8c8c8"/><stop offset="1" stop-color="#c5c5c5"/></linearGradient>
<linearGradient id="s121" gradientUnits="userSpaceOnUse" x1="889.0" y1="0" x2="1777.0" y2="0" spreadMethod="reflect"><stop offset="0" stop-color="#d4d4d4"/><stop offset="0.1" stop-color="#d4d4d4"/><stop offset="0.2" stop-color="#d3d3d3"/><stop offset="0.3" stop-color="#d2d2d2"/><stop offset="0.4" stop-color="#d1d1d1"/><stop offset="0.5" stop-color="#d0d0d0"/><stop offset="0.6" stop-color="#cecece"/><stop offset="0.7" stop-color="#cccccc"/><stop offset="0.8" stop-color="#cacaca"/><stop offset="0.9" stop-color="#c7c7c7"/><stop offset="1" stop-color="#c4c4c4"/></linearGradient>
<linearGradient id="s122" gradientUnits="userSpaceOnUse" x1="889.0" y1="0" x2="1777.0" y2="0" spreadMethod="reflect"><stop offset="0" stop-color="#d3d3d3"/><stop offset="0.1" stop-color="#d3d3d3"/><stop offset="0.2" stop-color="#d3d3d3"/><stop offset="0.3" stop-color="#d2d2d2"/><stop offset="0.4" stop-color="#d1d1d1"/><stop offset="0.5" stop-color="#d0d0d0"/><stop offset="0.6" stop-color="#cecece"/><stop offset="0.7" stop-color="#cccccc"/><stop offset="0.8" stop-color="#cacaca"/><stop offset="0.9" stop-color="#c7c7c7"/><stop offset="1" stop-color="#c4c4c4"/></linearGradient>
<linearGradient id="s123" gradientUnits="userSpaceOnUse" x1="889.0" y1="0" x2="1777.0" y2="0" spreadMethod="reflect"><stop offset="0" stop-color="#d3d3d3"/><stop offset="0.1" stop-color="#d3d3d3"/><stop offset="0.2" stop-color="#d2d2d2"/><stop offset="0.3" stop-color="#d2d2d2"/><stop offset="0.4" stop-color="#d1d1d1"/><stop offset="0.5" stop-color="#cfcfcf"/><stop offset="0.6" stop-color="#cecece"/><stop offset="0.7" stop-color="#cccccc"/><stop offset="0.8" stop-color="#c9c9c9"/><stop offset="0.9" stop-color="#c7c7c7"/><stop offset="1" stop-color="#c4c4c4"/></linearGradient>
<linearGradient id="s124" gradientUnits="userSpaceOnUse" x1="889.0" y1="0" x2="1777.0" y2="0" spreadMethod="reflect"><stop offset="0" stop-color="#d3d3d3"/><stop offset="0.1" stop-color="#d2d2d2"/><stop offset="0.2" stop-color="#d2d2d2"/><stop offset="0.3" stop-color="#d1d1d1"/><stop offset="0.4" stop-color="#d0d0d0"/><stop offset="0.5" stop-color="#cfcfcf"/><stop offset="0.6" stop-color="#cdcdcd"/><stop offset="0.7" stop-color="#cbcbcb"/><stop offset="0.8" stop-color="#c9c9c9"/><stop offset="0.9" stop-color="#c6c6c6"/><stop offset="1" stop-color="#c3c3c3"/></linearGradient>
<linearGradient id="s125" gradientUnits="userSpaceOnUse" x1="889.0" y1="0" x2="1777.0" y2="0" spreadMethod="reflect"><stop offset="0" stop-color="#d2d2d2"/><stop offset="0.1" stop-color="#d2d2d2"/><stop offset="0.2" stop-color="#d2d2d2"/><stop offset="0.3" stop-color="#d1d1d1"/><stop offset="0.4" stop-color="#d0d0d0"/><stop offset="0.5" stop-color="#cfcfcf"/><stop offset="0.6" stop-color="#cdcdcd"/><stop offset="0.7" stop-color="#cbcbcb"/><stop offset="0.8" stop-color="#c9c9c9"/><stop offset="0.9" stop-color="#c6c6c6"/><stop offset="1" stop-color="#c3c3c3"/></linearGradient>
<linearGradient id="s126" gradientUnits="userSpaceOnUse" x1="889.0" y1="0" x2="1777.0" y2="0" spreadMethod="reflect"><stop offset="0" stop-color="#d2d2d2"/><stop offset="0.1" stop-color="#d2d2d2"/><stop offset="0.2" stop-color="#d1d1d1"/><stop offset="0.3" stop-color="#d1d1d1"/><stop offset="0.4" stop-color="#d0d0d0"/><stop offset="0.5" stop-color="#cecece"/><stop offset="0.6" stop-color="#cdcdcd"/><stop offset="0.7" stop-color="#cbcbcb"/><stop offset="0.8" stop-color="#c8c8c8"/><stop offset="0.9" stop-color="#c6c6c6"/><stop offset="1" stop-color="#c3c3c3"/></linearGradient>
<linearGradient id="s127" gradientUnits="userSpaceOnUse" x1="889.0" y1="0" x2="1777.0" y2="0" spreadMethod="reflect"><stop offset="0" stop-color="#d1d1d1"/><stop offset="0.1" stop-color="#d1d1d1"/><stop offset="0.2" stop-color="#d1d1d1"/><stop offset="0.3" stop-color="#d0d0d0"/><stop offset="0.4" stop-color="#cfcfcf"/><stop offset="0.5" stop-color="#cecece"/><stop offset="0.6" stop-color="#cccccc"/><stop offset="0.7" stop-color="#cacaca"/><stop offset="0.8" stop-color="#c8c8c8"/><stop offset="0.9" stop-color="#c5c5c5"/><stop offset="1" stop-color="#c3c3c3"/></linearGradient>
<linearGradient id="s128" gradientUnits="userSpaceOnUse" x1="889.0" y1="0" x2="1777.0" y2="0" spreadMethod="reflect"><stop offset="0" stop-color="#d1d1d1"/><stop offset="0.1" stop-color="#d1d1d1"/><stop offset="0.2" stop-color="#d1d1d1"/><stop offset="0.3" stop-color="#d0d0d0"/><stop offset="0.4" stop-color="#cfcfcf"/><stop offset="0.5" stop-color="#cdcdcd"/><stop offset="0.6" stop-color="#cccccc"/><stop offset="0.7" stop-color="#cacaca"/><stop offset="0.8" stop-color="#c8c8c8"/><stop offset="0.9" stop-color="#c5c5c5"/><stop offset="1" stop-color="#c2c2c2"/></linearGradient>
<linearGradient id="s129" gradientUnits="userSpaceOnUse" x1="889.0" y1="0" x2="1777.0" y2="0" spreadMethod="reflect"><stop offset="0" stop-color="#d1d1d1"/><stop offset="0.1" stop-color="#d1d1d1"/><stop offset="0.2" stop-color="#d0d0d0"/><stop offset="0.3" stop-color="#cfcfcf"/><stop offset="0.4" stop-color="#cecece"/><stop offset="0.5" stop-color="#cdcdcd"/><stop offset="0.6" stop-color="#cccccc"/><stop offset="0.7" stop-color="#cacaca"/><stop offset="0.8" stop-color="#c7c7c7"/><stop offset="0.9" stop-color="#c5c5c5"/><stop offset="1" stop-color="#c2c2c2"/></linearGradient>
<linearGradient id="s130" gradientUnits="userSpaceOnUse" x1="889.0" y1="0" x2="1777.0" y2="0" spreadMethod="reflect"><stop offset="0" stop-color="#d0d0d0"/><stop offset="0.1" stop-color="#d0d0d0"/><stop offset="0.2" stop-color="#d0d0d0"/><stop offset="0.3" stop-color="#cfcfcf"/><stop offset="0.4" stop-color="#cecece"/><stop offset="0.5" stop-color="#cdcdcd"/><stop offset="0.6" stop-color="#cbcbcb"/><stop offset="0.7" stop-color="#c9c9c9"/><stop offset="0.8" stop-color="#c7c7c7"/><stop offset="0.9" stop-color="#c5c5c5"/><stop offset="1" stop-color="#c2c2c2"/></linearGradient>
<linearGradient id="s131" gradientUnits="userSpaceOnUse" x1="889.0" y1="0" x2="1777.0" y2="0" spreadMethod="reflect"><stop offset="0" stop-color="#d0d0d0"/><stop offset="0.1" stop-color="#d0d0d0"/><stop offset="0.2" stop-color="#cfcfcf"/><stop offset="0.3" stop-color="#cfcfcf"/><stop offset="0.4" stop-color="#cecece"/><stop offset="0.5" stop-color="#cccccc"/><stop offset="0.6" stop-color="#cbcbcb"/><stop offset="0.7" stop-color="#c9c9c9"/><stop offset="0.8" stop-color="#c7c7c7"/><stop offset="0.9" stop-color="#c4c4c4"/><stop offset="1" stop-color="#c1c1c1"/></linearGradient>
<linearGradient id="s132" gradientUnits="userSpaceOnUse" x1="889.0" y1="0" x2="1777.0" y2="0" spreadMethod="reflect"><stop offset="0" stop-color="#d0d0d0"/><stop offset="0.1" stop-color="#cfcfcf"/><stop offset="0.2" stop-color="#cfcfcf"/><stop offset="0.3" stop-color="#cecece"/><stop offset="0.4" stop-color="#cdcdcd"/><stop offset="0.5" stop-color="#cccccc"/><stop offset="0.6" stop-color="#cbcbcb"/><stop offset="0.7" stop-color="#c9c9c9"/><stop offset="0.8" stop-color="#c6c6c6"/><stop offset="0.9" stop-color="#c4c4c4"/><stop offset="1" stop-color="#c1c1c1"/></linearGradient>
<linearGradient id="s133" gradientUnits="userSpaceOnUse" x1="889.0" y1="0" x2="1777.0" y2="0" spreadMethod="reflect"><stop offset="0" stop-color="#cfcfcf"/><stop offset="0.1" stop-color="#cfcfcf"/><stop offset="0.2" stop-color="#cfcfcf"/><stop offset="0.3" stop-color="#cecece"/><stop offset="0.4" stop-color="#cdcdcd"/><stop offset="0.5" stop-color="#cccccc"/><stop offset="0.6" stop-color="#cacaca"/><stop offset="0.7" stop-color="#c8c8c8"/><stop offset="0.8" stop-color="#c6c6c6"/><stop offset="0.9" stop-color="#c4c4c4"/><stop offset="1" stop-color="#c1c1c1"/></linearGradient>
<linearGradient id="s134" gradientUnits="userSpaceOnUse" x1="889.0" y1="0" x2="1777.0" y2="0" spreadMethod="reflect"><stop offset="0" stop-color="#cfcfcf"/><stop offset="0.1" stop-color="#cfcfcf"/><stop offset="0.2" stop-color="#cecece"/><stop offset="0.3" stop-color="#cecece"/><stop offset="0.4" stop-color="#cdcdcd"/><stop offset="0.5" stop-color="#cbcbcb"/><stop offset="0.6" stop-color="#cacaca"/><stop offset="0.7" stop-color="#c8c8c8"/><stop offset="0.8" stop-color="#c6c6c6"/><stop offset="0.9" stop-color="#c3c3c3"/><stop offset="1" stop-color="#c1c1c1"/></linearGradient>
<linearGradient id="s135" gradientUnits="userSpaceOnUse" x1="889.0" y1="0" x2="1777.0" y2="0" spreadMethod="reflect"><stop offset="0" stop-color="#cfcfcf"/><stop offset="0.1" stop-color="#cecece"/><stop offset="0.2" stop-color="#cecece"/><stop offset="0.3" stop-color="#cdcdcd"/><stop offset="0.4" stop-color="#cccccc"/><stop offset="0.5" stop-color="#cbcbcb"/><stop offset="0.6" stop-color="#cacaca"/><stop offset="0.7" stop-color="#c8c8c8"/><stop offset="0.8" stop-color="#c6c6c6"/><stop offset="0.9" stop-color="#c3c3c3"/><stop offset="1" stop-color="#c0c0c0"/></linearGradient>
<linearGradient id="s136" gradientUnits="userSpaceOnUse" x1="889.0" y1="0" x2="1777.0" y2="0" spreadMethod="reflect"><stop offset="0" stop-color="#cecece"/><stop offset="0.1" stop-color="#cecece"/><stop offset="0.2" stop-color="#cecece"/><stop offset="0.3" stop-color="#cdcdcd"/><stop offset="0.4" stop-color="#cccccc"/><stop offset="0.5" stop-color="#cbcbcb"/><stop offset="0.6" stop-color="#c9c9c9"/><stop offset="0.7" stop-color="#c7c7c7"/><stop offset="0.8" stop-color="#c5c5c5"/><stop offset="0.9" stop-color="#c3c3c3"/><stop offset="1" stop-color="#c0c0c0"/></linearGradient>
<linearGradient id="s137" gradientUnits="userSpaceOnUse" x1="889.0" y1="0" x2="1777.0" y2="0" spreadMethod="reflect"><stop offset="0" stop-color="#cecece"/><stop offset="0.1" stop-color="#cecece"/><stop offset="0.2" stop-color="#cdcdcd"/><stop offset="0.3" stop-color="#cdcdcd"/><stop offset="0.4" stop-color="#cccccc"/><stop offset="0.5" stop-color="#cacaca"/><stop offset="0.6" stop-color="#c9c9c9"/><stop offset="0.7" stop-color="#c7c7c7"/><stop offset="0.8" stop-color="#c5c5c5"/><stop offset="0.9" stop-color="#c2c2c2"/><stop offset="1" stop-color="#c0c0c0"/></linearGradient>
<linearGradient id="s138" gradientUnits="userSpaceOnUse" x1="889.0" y1="0" x2="1777.0" y2="0" spreadMethod="reflect"><stop offset="0" stop-color="#cdcdcd"/><stop offset="0.1" stop-color="#cdcdcd"/><stop offset="0.2" stop-color="#cdcdcd"/><stop offset="0.3" stop-color="#cccccc"/><stop offset="0.4" stop-color="#cbcbcb"/><stop offset="0.5" stop-color="#cacaca"/><stop offset="0.6" stop-color="#c8c8c8"/><stop offset="0.7" stop-color="#c7c7c7"/><stop offset="0.8" stop-color="#c5c5c5"/><stop offset="0.9" stop-color="#c2c2c2"/><stop offset="1" stop-color="#bfbfbf"/></linearGradient>
<linearGradient id="s139" gradientUnits="userSpaceOnUse" x1="889.0" y1="0" x2="1777.0" y2="0" spreadMethod="reflect"><stop offset="0" stop-color="#cdcdcd"/><stop offset="0.1" stop-color="#cdcdcd"/><stop offset="0.2" stop-color="#cdcdcd"/><stop offset="0.3" stop-color="#cccccc"/><stop offset="0.4" stop-color="#cbcbcb"/><stop offset="0.5" stop-color="#cacaca"/><stop offset="0.6" stop-color="#c8c8c8"/><stop offset="0.7" stop-color="#c6c6c6"/><stop offset="0.8" stop-color="#c4c4c4"/><stop offset="0.9" stop-color="#c2c2c2"/><stop offset="1" stop-color="#bfbfbf"/></linearGradient>
<linearGradient id="s140" gradientUnits="userSpaceOnUse" x1="889.0" y1="0" x2="1777.0" y2="0" spreadMethod="reflect"><stop offset="0" stop-color="#cdcdcd"/><stop offset="0.1" stop-color="#cdcdcd"/><stop offset="0.2" stop-color="#cccccc"/><stop offset="0.3" stop-color="#cbcbcb"/><stop offset="0.4" stop-color="#cbcbcb"/><stop offset="0.5" stop-color="#c9c9c9"/><stop offset="0.6" stop-color="#c8c8c8"/><stop offset="0.7" stop-color="#c6c6c6"/><stop offset="0.8" stop-color="#c4c4c4"/><stop offset="0.9" stop-color="#c1c1c1"/><stop offset="1" stop-color="#bfbfbf"/></linearGradient>
<linearGradient id="s141" gradientUnits="userSpaceOnUse" x1="889.0" y1="0" x2="1777.0" y2="0" spreadMethod="reflect"><stop offset="0" stop-color="#cccccc"/><stop offset="0.1" stop-color="#cccccc"/><stop offset="0.2" stop-color="#cccccc"/><stop offset="0.3" stop-color="#cbcbcb"/><stop offset="0.4" stop-color="#cacaca"/><stop offset="0.5" stop-color="#c9c9c9"/><stop offset="0.6" stop-color="#c7c7c7"/><stop offset="0.7" stop-color="#c6c6c6"/><stop offset="0.8" stop-color="#c4c4c4"/><stop offset="0.9" stop-color="#c1c1c1"/><stop offset="1" stop-color="#bebebe"/></linearGradient>
</defs>
<rect x="0" y="0" width="1782" height="1430" fill="#ffffff"/>
<g shape-rendering="crispEdges">
<rect x="1" y="4" width="1776" height="10" fill="url(#s0)"/>
<rect x="1" y="14" width="1776" height="10" fill="url(#s1)"/>
<rect x="1" y="24" width="1776" height="10" fill="url(#s2)"/>
<rect x="1" y="34" width="1776" height="10" fill="url(#s3)"/>
<rect x="1" y="44" width="1776" height="10" fill="url(#s4)"/>
<rect x="1" y="54" width="1776" height="10" fill="url(#s5)"/>
<rect x="1" y="64" width="1776" height="10" fill="url(#s6)"/>
<rect x="1" y="74" width="1776" height="10" fill="url(#s7)"/>
<rect x="1" y="84" width="1776" height="10" fill="url(#s8)"/>
<rect x="1" y="94" width="1776" height="10" fill="url(#s9)"/>
<rect x="1" y="104" width="1776" height="10" fill="url(#s10)"/>
<rect x="1" y="114" width="1776" height="10" fill="url(#s11)"/>
<rect x="1" y="124" width="1776" height="10" fill="url(#s12)"/>
<rect x="1" y="134" width="1776" height="10" fill="url(#s13)"/>
<rect x="1" y="144" width="1776" height="10" fill="url(#s14)"/>
<rect x="1" y="154" width="1776" height="10" fill="url(#s15)"/>
<rect x="1" y="164" width="1776" height="10" fill="url(#s16)"/>
<rect x="1" y="174" width="1776" height="10" fill="url(#s17)"/>
<rect x="1" y="184" width="1776" height="10" fill="url(#s18)"/>
<rect x="1" y="194" width="1776" height="10" fill="url(#s19)"/>
<rect x="1" y="204" width="1776" height="10" fill="url(#s20)"/>
<rect x="1" y="214" width="1776" height="10" fill="url(#s21)"/>
<rect x="1" y="224" width="1776" height="10" fill="url(#s22)"/>
<rect x="1" y="234" width="1776" height="10" fill="url(#s23)"/>
<rect x="1" y="244" width="1776" height="10" fill="url(#s24)"/>
<rect x="1" y="254" width="1776" height="10" fill="url(#s25)"/>
<rect x="1" y="264" width="1776" height="10" fill="url(#s26)"/>
<rect x="1" y="274" width="1776" height="10" fill="url(#s27)"/>
<rect x="1" y="284" width="1776" height="10" fill="url(#s28)"/>
<rect x="1" y="294" width="1776" height="10" fill="url(#s29)"/>
<rect x="1" y="304" width="1776" height="10" fill="url(#s30)"/>
<rect x="1" y="314" width="1776" height="10" fill="url(#s31)"/>
<rect x="1" y="324" width="1776" height="10" fill="url(#s32)"/>
<rect x="1" y="334" width="1776" height="10" fill="url(#s33)"/>
<rect x="1" y="344" width="1776" height="10" fill="url(#s34)"/>
<rect x="1" y="354" width="1776" height="10" fill="url(#s35)"/>
<rect x="1" y="364" width="1776" height="10" fill="url(#s36)"/>
<rect x="1" y="374" width="1776" height="10" fill="url(#s37)"/>
<rect x="1" y="384" width="1776" height="10" fill="url(#s38)"/>
<rect x="1" y="394" width="1776" height="10" fill="url(#s39)"/>
<rect x="1" y="404" width="1776" height="10" fill="url(#s40)"/>
<rect x="1" y="414" width="1776" height="10" fill="url(#s41)"/>
<rect x="1" y="424" width="1776" height="10" fill="url(#s42)"/>
<rect x="1" y="434" width="1776" height="10" fill="url(#s43)"/>
<rect x="1" y="444" width="1776" height="10" fill="url(#s44)"/>
<rect x="1" y="454" width="1776" height="10" fill="url(#s45)"/>
<rect x="1" y="464" width="1776" height="10" fill="url(#s46)"/>
<rect x="1" y="474" width="1776" height="10" fill="url(#s47)"/>
<rect x="1" y="484" width="1776" height="10" fill="url(#s48)"/>
<rect x="1" y="494" width="1776" height="10" fill="url(#s49)"/>
<rect x="1" y="504" width="1776" height="10" fill="url(#s50)"/>
<rect x="1" y="514" width="1776" height="10" fill="url(#s51)"/>
<rect x="1" y="524" width="1776" height="10" fill="url(#s52)"/>
<rect x="1" y="534" width="1776" height="10" fill="url(#s53)"/>
<rect x="1" y="544" width="1776" height="10" fill="url(#s54)"/>
<rect x="1" y="554" width="1776" height="10" fill="url(#s55)"/>
<rect x="1" y="564" width="1776" height="10" fill="url(#s56)"/>
<rect x="1" y="574" width="1776" height="10" fill="url(#s57)"/>
<rect x="1" y="584" width="1776" height="10" fill="url(#s58)"/>
<rect x="1" y="594" width="1776" height="10" fill="url(#s59)"/>
<rect x="1" y="604" width="1776" height="10" fill="url(#s60)"/>
<rect x="1" y="614" width="1776" height="10" fill="url(#s61)"/>
<rect x="1" y="624" width="1776" height="10" fill="url(#s62)"/>
<rect x="1" y="634" width="1776" height="10" fill="url(#s63)"/>
<rect x="1" y="644" width="1776" height="10" fill="url(#s64)"/>
<rect x="1" y="654" width="1776" height="10" fill="url(#s65)"/>
<rect x="1" y="664" width="1776" height="10" fill="url(#s66)"/>
<rect x="1" y="674" width="1776" height="10" fill="url(#s67)"/>
<rect x="1" y="684" width="1776" height="10" fill="url(#s68)"/>
<rect x="1" y="694" width="1776" height="10" fill="url(#s69)"/>
<rect x="1" y="704" width="1776" height="10" fill="url(#s70)"/>
<rect x="1" y="714" width="1776" height="10" fill="url(#s71)"/>
<rect x="1" y="724" width="1776" height="10" fill="url(#s72)"/>
<rect x="1" y="734" width="1776" height="10" fill="url(#s73)"/>
<rect x="1" y="744" width="1776" height="10" fill="url(#s74)"/>
<rect x="1" y="754" width="1776" height="10" fill="url(#s75)"/>
<rect x="1" y="764" width="1776" height="10" fill="url(#s76)"/>
<rect x="1" y="774" width="1776" height="10" fill="url(#s77)"/>
<rect x="1" y="784" width="1776" height="10" fill="url(#s78)"/>
<rect x="1" y="794" width="1776" height="10" fill="url(#s79)"/>
<rect x="1" y="804" width="1776" height="10" fill="url(#s80)"/>
<rect x="1" y="814" width="1776" height="10" fill="url(#s81)"/>
<rect x="1" y="824" width="1776" height="10" fill="url(#s82)"/>
<rect x="1" y="834" width="1776" height="10" fill="url(#s83)"/>
<rect x="1" y="844" width="1776" height="10" fill="url(#s84)"/>
<rect x="1" y="854" width="1776" height="10" fill="url(#s85)"/>
<rect x="1" y="864" width="1776" height="10" fill="url(#s86)"/>
<rect x="1" y="874" width="1776" height="10" fill="url(#s87)"/>
<rect x="1" y="884" width="1776" height="10" fill="url(#s88)"/>
<rect x="1" y="894" width="1776" height="10" fill="url(#s89)"/>
<rect x="1" y="904" width="1776" height="10" fill="url(#s90)"/>
<rect x="1" y="914" width="1776" height="10" fill="url(#s91)"/>
<rect x="1" y="924" width="1776" height="10" fill="url(#s92)"/>
<rect x="1" y="934" width="1776" height="10" fill="url(#s93)"/>
<rect x="1" y="944" width="1776" height="10" fill="url(#s94)"/>
<rect x="1" y="954" width="1776" height="10" fill="url(#s95)"/>
<rect x="1" y="964" width="1776" height="10" fill="url(#s96)"/>
<rect x="1" y="974" width="1776" height="10" fill="url(#s97)"/>
<rect x="1" y="984" width="1776" height="10" fill="url(#s98)"/>
<rect x="1" y="994" width="1776" height="10" fill="url(#s99)"/>
<rect x="1" y="1004" width="1776" height="10" fill="url(#s100)"/>
<rect x="1" y="1014" width="1776" height="10" fill="url(#s101)"/>
<rect x="1" y="1024" width="1776" height="10" fill="url(#s102)"/>
<rect x="1" y="1034" width="1776" height="10" fill="url(#s103)"/>
<rect x="1" y="1044" width="1776" height="10" fill="url(#s104)"/>
<rect x="1" y="1054" width="1776" height="10" fill="url(#s105)"/>
<rect x="1" y="1064" width="1776" height="10" fill="url(#s106)"/>
<rect x="1" y="1074" width="1776" height="10" fill="url(#s107)"/>
<rect x="1" y="1084" width="1776" height="10" fill="url(#s108)"/>
<rect x="1" y="1094" width="1776" height="10" fill="url(#s109)"/>
<rect x="1" y="1104" width="1776" height="10" fill="url(#s110)"/>
<rect x="1" y="1114" width="1776" height="10" fill="url(#s111)"/>
<rect x="1" y="1124" width="1776" height="10" fill="url(#s112)"/>
<rect x="1" y="1134" width="1776" height="10" fill="url(#s113)"/>
<rect x="1" y="1144" width="1776" height="10" fill="url(#s114)"/>
<rect x="1" y="1154" width="1776" height="10" fill="url(#s115)"/>
<rect x="1" y="1164" width="1776" height="10" fill="url(#s116)"/>
<rect x="1" y="1174" width="1776" height="10" fill="url(#s117)"/>
<rect x="1" y="1184" width="1776" height="10" fill="url(#s118)"/>
<rect x="1" y="1194" width="1776" height="10" fill="url(#s119)"/>
<rect x="1" y="1204" width="1776" height="10" fill="url(#s120)"/>
<rect x="1" y="1214" width="1776" height="10" fill="url(#s121)"/>
<rect x="1" y="1224" width="1776" height="10" fill="url(#s122)"/>
<rect x="1" y="1234" width="1776" height="10" fill="url(#s123)"/>
<rect x="1" y="1244" width="1776" height="10" fill="url(#s124)"/>
<rect x="1" y="1254" width="1776" height="10" fill="url(#s125)"/>
<rect x="1" y="1264" width="1776" height="10" fill="url(#s126)"/>
<rect x="1" y="1274" width="1776" height="10" fill="url(#s127)"/>
<rect x="1" y="1284" width="1776" height="10" fill="url(#s128)"/>
<rect x="1" y="1294" width="1776" height="10" fill="url(#s129)"/>
<rect x="1" y="1304" width="1776" height="10" fill="url(#s130)"/>
<rect x="1" y="1314" width="1776" height="10" fill="url(#s131)"/>
<rect x="1" y="1324" width="1776" height="10" fill="url(#s132)"/>
<rect x="1" y="1334" width="1776" height="10" fill="url(#s133)"/>
<rect x="1" y="1344" width="1776" height="10" fill="url(#s134)"/>
<rect x="1" y="1354" width="1776" height="10" fill="url(#s135)"/>
<rect x="1" y="1364" width="1776" height="10" fill="url(#s136)"/>
<rect x="1" y="1374" width="1776" height="10" fill="url(#s137)"/>
<rect x="1" y="1384" width="1776" height="10" fill="url(#s138)"/>
<rect x="1" y="1394" width="1776" height="10" fill="url(#s139)"/>
<rect x="1" y="1404" width="1776" height="10" fill="url(#s140)"/>
<rect x="1" y="1414" width="1776" height="10" fill="url(#s141)"/>
</g>
<rect x="0" y="1423.7" width="1782" height="8" fill="#ffffff"/>
<rect x="2.45" y="5.95" width="1773.05" height="1416.20" rx="1.2" fill="none" stroke="#bfbfbf" stroke-width="3.1"/>
<line x1="53.0" y1="150.5" x2="1724.3" y2="150.5" stroke="#b8b8b8" stroke-opacity="0.38" stroke-width="2.8"/>
<line x1="53.0" y1="304.1" x2="1724.3" y2="304.1" stroke="#aeaeae" stroke-opacity="0.38" stroke-width="2.8"/>
<line x1="53.0" y1="457.2" x2="1724.3" y2="457.2" stroke="#999999" stroke-opacity="0.38" stroke-width="2.8"/>
<line x1="53.0" y1="611.0" x2="1724.3" y2="611.0" stroke="#6f6f6f" stroke-opacity="0.38" stroke-width="2.8"/>
<line x1="53.0" y1="764.0" x2="1724.3" y2="764.0" stroke="#3a3a3a" stroke-opacity="0.38" stroke-width="2.8"/>
<line x1="53.0" y1="917.1" x2="1724.3" y2="917.1" stroke="#000000" stroke-opacity="0.38" stroke-width="2.8"/>
<line x1="53.0" y1="1069.8" x2="1724.3" y2="1069.8" stroke="#404040" stroke-width="6.5"/>
<g filter="url(#ga)" fill="#404040" stroke="#404040" stroke-width="1.1" font-size="37" text-anchor="middle">
<text x="145.5" y="1134.9" textLength="91.5" lengthAdjust="spacingAndGlyphs">2016</text>
<text x="331.2" y="1134.9" textLength="91.5" lengthAdjust="spacingAndGlyphs">2017</text>
<text x="516.8" y="1134.9" textLength="91.5" lengthAdjust="spacingAndGlyphs">2019</text>
<text x="702.5" y="1134.9" textLength="91.5" lengthAdjust="spacingAndGlyphs">2020</text>
<text x="888.1" y="1134.9" textLength="91.5" lengthAdjust="spacingAndGlyphs">2021</text>
<text x="1073.8" y="1134.9" textLength="91.5" lengthAdjust="spacingAndGlyphs">2022</text>
<text x="1259.5" y="1134.9" textLength="91.5" lengthAdjust="spacingAndGlyphs">2023</text>
<text x="1445.1" y="1134.9" textLength="91.5" lengthAdjust="spacingAndGlyphs">2024</text>
<text x="1630.8" y="1134.9" textLength="91.5" lengthAdjust="spacingAndGlyphs">2025</text>
</g>
<g fill="#4f81bd" stroke="none">
<polyline points="145.6,1070.7 331.3,752.1 516.9,876.0 702.6,1070.7 888.2,748.1 1073.9,1070.7 1259.6,946.8 1445.2,1070.7 1630.9,1070.7" fill="none" stroke="#4f81bd" stroke-width="11.0" stroke-linejoin="round" stroke-linecap="round"/>
<circle cx="146.9" cy="1070.7" r="38.9"/>
<circle cx="332.6" cy="752.1" r="38.9"/>
<circle cx="518.2" cy="876.0" r="38.9"/>
<circle cx="703.9" cy="1070.7" r="38.9"/>
<circle cx="889.5" cy="748.1" r="38.9"/>
<circle cx="1075.2" cy="1070.7" r="38.9"/>
<circle cx="1260.9" cy="946.8" r="38.9"/>
<circle cx="1446.5" cy="1070.7" r="38.9"/>
<circle cx="1632.2" cy="1070.7" r="38.9"/>
</g>
<g fill="#c0504d" stroke="none">
<polyline points="145.6,1070.7 331.3,1035.8 516.9,1035.8 702.6,747.7 888.2,1020.9 1073.9,1070.7 1259.6,1039.3 1445.2,1030.0 1630.9,1070.7" fill="none" stroke="#c0504d" stroke-width="11.0" stroke-linejoin="round" stroke-linecap="round"/>
<circle cx="146.9" cy="1070.7" r="38.9"/>
<circle cx="332.6" cy="1035.8" r="38.9"/>
<circle cx="518.2" cy="1035.8" r="38.9"/>
<circle cx="703.9" cy="747.7" r="38.9"/>
<circle cx="889.5" cy="1020.9" r="38.9"/>
<circle cx="1075.2" cy="1070.7" r="38.9"/>
<circle cx="1260.9" cy="1039.3" r="38.9"/>
<circle cx="1446.5" cy="1030.0" r="38.9"/>
<circle cx="1632.2" cy="1070.7" r="38.9"/>
</g>
<g fill="#9bbb59" stroke="none">
<polyline points="145.6,1070.7 331.3,734.9 516.9,734.7 702.6,701.0 888.2,704.0 1073.9,892.6 1259.6,975.4 1445.2,688.1 1630.9,691.9" fill="none" stroke="#9bbb59" stroke-width="11.0" stroke-linejoin="round" stroke-linecap="round"/>
<circle cx="146.9" cy="1070.7" r="38.9"/>
<circle cx="332.6" cy="734.9" r="38.9"/>
<circle cx="518.2" cy="734.7" r="38.9"/>
<circle cx="703.9" cy="701.0" r="38.9"/>
<circle cx="889.5" cy="704.0" r="38.9"/>
<circle cx="1075.2" cy="892.6" r="38.9"/>
<circle cx="1260.9" cy="975.4" r="38.9"/>
<circle cx="1446.5" cy="688.1" r="38.9"/>
<circle cx="1632.2" cy="691.9" r="38.9"/>
</g>
<g fill="#8064a2" stroke="none">
<polyline points="145.6,1070.7 331.3,500.9 516.9,289.6 702.6,606.8 888.2,506.9 1073.9,434.9 1259.6,238.7 1445.2,574.0 1630.9,444.9" fill="none" stroke="#8064a2" stroke-width="11.0" stroke-linejoin="round" stroke-linecap="round"/>
<circle cx="146.9" cy="1070.7" r="38.9"/>
<circle cx="332.6" cy="500.9" r="38.9"/>
<circle cx="518.2" cy="289.6" r="38.9"/>
<circle cx="703.9" cy="606.8" r="38.9"/>
<circle cx="889.5" cy="506.9" r="38.9"/>
<circle cx="1075.2" cy="434.9" r="38.9"/>
<circle cx="1260.9" cy="238.7" r="38.9"/>
<circle cx="1446.5" cy="574.0" r="38.9"/>
<circle cx="1632.2" cy="444.9" r="38.9"/>
</g>
<g filter="url(#ga)" fill="#ffffff" stroke="#ffffff" stroke-width="0.7" font-weight="bold" font-size="37.6" text-anchor="middle">
<text x="146.1" y="1085.1" textLength="23.1" lengthAdjust="spacingAndGlyphs">0</text>
<text x="330.8" y="766.5" textLength="58.9" lengthAdjust="spacingAndGlyphs">1,0</text>
<text x="516.9" y="890.4" textLength="55.9" lengthAdjust="spacingAndGlyphs">0,6</text>
<text x="703.1" y="1085.1" textLength="56.9" lengthAdjust="spacingAndGlyphs">0,0</text>
<text x="887.7" y="762.5" textLength="59.9" lengthAdjust="spacingAndGlyphs">1,1</text>
<text x="1074.4" y="1085.1" textLength="56.9" lengthAdjust="spacingAndGlyphs">0,0</text>
<text x="1260.1" y="961.2" textLength="80.9" lengthAdjust="spacingAndGlyphs">0,40</text>
<text x="1445.7" y="1085.1" textLength="80.9" lengthAdjust="spacingAndGlyphs">0,00</text>
<text x="1631.4" y="1085.1" textLength="80.9" lengthAdjust="spacingAndGlyphs">0,00</text>
<text x="146.1" y="1085.1" textLength="23.1" lengthAdjust="spacingAndGlyphs">0</text>
<text x="331.8" y="1050.2" textLength="57.9" lengthAdjust="spacingAndGlyphs">0,1</text>
<text x="517.4" y="1050.2" textLength="57.9" lengthAdjust="spacingAndGlyphs">0,1</text>
<text x="702.1" y="762.1" textLength="59.9" lengthAdjust="spacingAndGlyphs">1,1</text>
<text x="888.7" y="1035.3" textLength="57.9" lengthAdjust="spacingAndGlyphs">0,2</text>
<text x="1074.4" y="1085.1" textLength="56.9" lengthAdjust="spacingAndGlyphs">0,0</text>
<text x="1260.1" y="1053.7" textLength="80.9" lengthAdjust="spacingAndGlyphs">0,10</text>
<text x="1445.7" y="1044.4" textLength="80.9" lengthAdjust="spacingAndGlyphs">0,13</text>
<text x="1631.4" y="1085.1" textLength="80.9" lengthAdjust="spacingAndGlyphs">0,00</text>
<text x="146.1" y="1085.1" textLength="23.1" lengthAdjust="spacingAndGlyphs">0</text>
<text x="330.8" y="749.3" textLength="59.9" lengthAdjust="spacingAndGlyphs">1,1</text>
<text x="516.4" y="749.1" textLength="59.9" lengthAdjust="spacingAndGlyphs">1,1</text>
<text x="702.1" y="715.4" textLength="59.9" lengthAdjust="spacingAndGlyphs">1,2</text>
<text x="887.7" y="718.4" textLength="59.9" lengthAdjust="spacingAndGlyphs">1,2</text>
<text x="1073.9" y="907.0" textLength="55.9" lengthAdjust="spacingAndGlyphs">0,6</text>
<text x="1260.6" y="989.8" textLength="81.9" lengthAdjust="spacingAndGlyphs">0,31</text>
<text x="1444.7" y="702.5" textLength="82.9" lengthAdjust="spacingAndGlyphs">1,25</text>
<text x="1629.9" y="706.3" textLength="82.9" lengthAdjust="spacingAndGlyphs">1,24</text>
<text x="146.1" y="1085.1" textLength="23.1" lengthAdjust="spacingAndGlyphs">0</text>
<text x="330.8" y="515.3" textLength="58.9" lengthAdjust="spacingAndGlyphs">1,9</text>
<text x="517.4" y="304.0" textLength="56.9" lengthAdjust="spacingAndGlyphs">2,5</text>
<text x="702.1" y="621.2" textLength="58.9" lengthAdjust="spacingAndGlyphs">1,5</text>
<text x="887.7" y="521.3" textLength="58.9" lengthAdjust="spacingAndGlyphs">1,8</text>
<text x="1074.4" y="449.3" textLength="57.9" lengthAdjust="spacingAndGlyphs">2,1</text>
<text x="1260.1" y="253.1" textLength="80.9" lengthAdjust="spacingAndGlyphs">2,72</text>
<text x="1444.7" y="588.4" textLength="82.9" lengthAdjust="spacingAndGlyphs">1,62</text>
<text x="1630.9" y="459.3" textLength="80.9" lengthAdjust="spacingAndGlyphs">2,04</text>
</g>
<line x1="145.4" y1="889.5" x2="1631.0" y2="1036.0" stroke="#4f81bd" stroke-width="6.9" stroke-dasharray="13.75 13.75" stroke-linecap="round"/>
<line x1="145.4" y1="993.0" x2="1631.0" y2="1033.0" stroke="#c0504d" stroke-width="6.9" stroke-dasharray="13.75 13.75" stroke-linecap="round"/>
<line x1="145.4" y1="866.0" x2="1631.0" y2="732.0" stroke="#9bbb59" stroke-width="6.9" stroke-dasharray="13.75 13.75" stroke-linecap="round"/>
<line x1="145.4" y1="689.3" x2="1631.0" y2="347.5" stroke="#8064a2" stroke-width="6.9" stroke-dasharray="13.75 13.75" stroke-linecap="round"/>
<g filter="url(#ga)">
<text x="368.2" y="83.8" font-size="43" font-weight="bold" fill="#404040" stroke="#404040" stroke-width="0.9" word-spacing="-3" textLength="1040.5" lengthAdjust="spacingAndGlyphs">Monitoring Indeks Keanekaragaman Flora di GLO</text>
<rect x="218" y="1174.3" width="1340.8" height="218.6" fill="#f2f2f2" fill-opacity="0.39"/>
<line x1="236.7" y1="1211.8" x2="351.3" y2="1211.8" stroke="#4f81bd" stroke-width="11.0" stroke-linecap="round"/>
<circle cx="294.0" cy="1211.8" r="11.6" fill="#4f81bd"/>
<text x="364.0" y="1223.3" font-size="37.7" fill="#404040" stroke="#404040" stroke-width="1.1" textLength="111.4" lengthAdjust="spacingAndGlyphs">pohon</text>
<line x1="683.7" y1="1211.8" x2="798.3" y2="1211.8" stroke="#c0504d" stroke-width="11.0" stroke-linecap="round"/>
<circle cx="741.0" cy="1211.8" r="11.6" fill="#c0504d"/>
<text x="811.0" y="1223.3" font-size="37.7" fill="#404040" stroke="#404040" stroke-width="1.1" textLength="109.5" lengthAdjust="spacingAndGlyphs">tihang</text>
<line x1="1130.1" y1="1211.8" x2="1244.7" y2="1211.8" stroke="#9bbb59" stroke-width="11.0" stroke-linecap="round"/>
<circle cx="1187.4" cy="1211.8" r="11.6" fill="#9bbb59"/>
<text x="1257.4" y="1223.3" font-size="37.7" fill="#404040" stroke="#404040" stroke-width="1.1" textLength="147.5" lengthAdjust="spacingAndGlyphs">pancang</text>
<line x1="236.7" y1="1287.7" x2="351.3" y2="1287.7" stroke="#8064a2" stroke-width="11.0" stroke-linecap="round"/>
<circle cx="294.0" cy="1287.7" r="11.6" fill="#8064a2"/>
<text x="364.0" y="1299.2" font-size="37.7" fill="#404040" stroke="#404040" stroke-width="1.1" textLength="102.4" lengthAdjust="spacingAndGlyphs">semai</text>
<line x1="683.3" y1="1287.7" x2="799.0" y2="1287.7" stroke="#4f81bd" stroke-width="6.9" stroke-dasharray="13.75 13.75" stroke-linecap="round"/>
<text x="811.0" y="1299.2" font-size="37.7" fill="#404040" stroke="#404040" stroke-width="1.1" textLength="264.9" lengthAdjust="spacingAndGlyphs">Linear (pohon)</text>
<line x1="1129.6" y1="1287.7" x2="1245.4" y2="1287.7" stroke="#c0504d" stroke-width="6.9" stroke-dasharray="13.75 13.75" stroke-linecap="round"/>
<text x="1257.4" y="1299.2" font-size="37.7" fill="#404040" stroke="#404040" stroke-width="1.1" textLength="266.1" lengthAdjust="spacingAndGlyphs">Linear (tihang)</text>
<line x1="236.2" y1="1363.0" x2="352.1" y2="1363.0" stroke="#9bbb59" stroke-width="6.9" stroke-dasharray="13.75 13.75" stroke-linecap="round"/>
<text x="364.0" y="1374.5" font-size="37.7" fill="#404040" stroke="#404040" stroke-width="1.1" textLength="303.5" lengthAdjust="spacingAndGlyphs">Linear (pancang)</text>
<line x1="683.3" y1="1363.0" x2="799.0" y2="1363.0" stroke="#8064a2" stroke-width="6.9" stroke-dasharray="13.75 13.75" stroke-linecap="round"/>
<text x="811.0" y="1374.5" font-size="37.7" fill="#404040" stroke="#404040" stroke-width="1.1" textLength="258.1" lengthAdjust="spacingAndGlyphs">Linear (semai)</text>
</g>
</svg></body></html>
